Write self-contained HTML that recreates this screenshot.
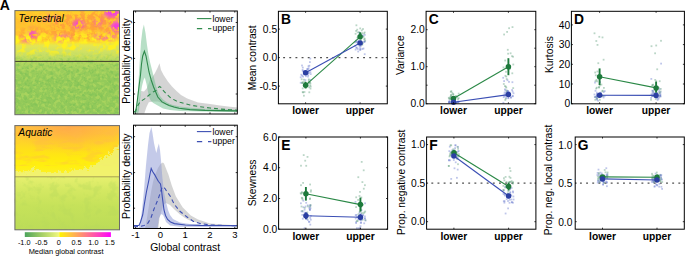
<!DOCTYPE html>
<html><head><meta charset="utf-8"><style>
html,body{margin:0;padding:0;background:#fff;width:685px;height:256px;overflow:hidden;}
svg{display:block;font-family:"Liberation Sans",sans-serif;}
</style></head><body>
<svg xmlns="http://www.w3.org/2000/svg" width="685" height="256" viewBox="0 0 685 256" font-family="Liberation Sans, sans-serif">
<defs><linearGradient id="tgrad" x1="0" y1="0" x2="0" y2="1"><stop offset="0.000" stop-color="#ffd02a"/><stop offset="0.093" stop-color="#ffc82c"/><stop offset="0.189" stop-color="#ffc030"/><stop offset="0.247" stop-color="#ffc82c"/><stop offset="0.276" stop-color="#ffd824"/><stop offset="0.305" stop-color="#fce82a"/><stop offset="0.333" stop-color="#e6e650"/><stop offset="0.381" stop-color="#d4e262"/><stop offset="0.439" stop-color="#c6de64"/><stop offset="0.497" stop-color="#b0d660"/><stop offset="0.573" stop-color="#9ccd5c"/><stop offset="0.670" stop-color="#94ca5a"/><stop offset="1.000" stop-color="#92c95a"/></linearGradient><linearGradient id="agrad" x1="0" y1="0" x2="0" y2="1"><stop offset="0.000" stop-color="#ffc040"/><stop offset="0.074" stop-color="#ffc636"/><stop offset="0.160" stop-color="#ffd428"/><stop offset="0.237" stop-color="#ffe01a"/><stop offset="0.314" stop-color="#ffea10"/><stop offset="0.391" stop-color="#fff010"/><stop offset="0.489" stop-color="#fcf030"/><stop offset="0.494" stop-color="#e6f06e"/><stop offset="0.621" stop-color="#d4e862"/><stop offset="0.765" stop-color="#c6e25a"/><stop offset="1.000" stop-color="#bcdc58"/></linearGradient>
<radialGradient id="aglow" cx="0.52" cy="0" r="0.55">
 <stop offset="0" stop-color="#ff9c50" stop-opacity="0.7"/>
 <stop offset="0.5" stop-color="#ffa64a" stop-opacity="0.35"/>
 <stop offset="1" stop-color="#ffb040" stop-opacity="0"/>
</radialGradient>
<filter id="rough" x="-0.1" y="-0.1" width="1.2" height="1.2">
 <feTurbulence type="fractalNoise" baseFrequency="0.3" numOctaves="3" seed="3" result="n"/>
 <feDisplacementMap in="SourceGraphic" in2="n" scale="10" xChannelSelector="R" yChannelSelector="G" result="d"/>
 <feGaussianBlur in="d" stdDeviation="0.5"/>
</filter>
<filter id="fatex" x="0" y="0" width="1" height="1" color-interpolation-filters="sRGB">
 <feTurbulence type="fractalNoise" baseFrequency="0.06 0.2" numOctaves="3" seed="41"/>
 <feColorMatrix type="matrix" values="0 0 0 0 1  0 0 0 0 0.72  0 0 0 0 0.3  5 0 0 0 -2.4"/>
</filter>
<filter id="fatex2" x="0" y="0" width="1" height="1" color-interpolation-filters="sRGB">
 <feTurbulence type="fractalNoise" baseFrequency="0.12" numOctaves="3" seed="43"/>
 <feColorMatrix type="matrix" values="0 0 0 0 0.72  0 0 0 0 0.85  0 0 0 0 0.36  5 0 0 0 -2.5"/>
</filter>
<clipPath id="aclip"><rect x="14.5" y="125.3" width="104.6" height="51.3"/></clipPath>
<filter id="forg" x="0" y="0" width="1" height="1" color-interpolation-filters="sRGB">
 <feTurbulence type="fractalNoise" baseFrequency="0.2" numOctaves="3" seed="5"/>
 <feColorMatrix type="matrix" values="0 0 0 0 1  0 0 0 0 0.64  0 0 0 0 0.22  6 0 0 0 -2.5"/>
</filter>
<filter id="fmag" x="0" y="0" width="1" height="1" color-interpolation-filters="sRGB">
 <feTurbulence type="fractalNoise" baseFrequency="0.22" numOctaves="3" seed="4"/>
 <feColorMatrix type="matrix" values="0 0 0 0 0.94  0 0 0 0 0.22  0 0 0 0 0.9  0 14 0 0 -5.6"/>
</filter>
<filter id="fyel" x="0" y="0" width="1" height="1" color-interpolation-filters="sRGB">
 <feTurbulence type="fractalNoise" baseFrequency="0.16" numOctaves="3" seed="9"/>
 <feColorMatrix type="matrix" values="0 0 0 0 1  0 0 0 0 0.94  0 0 0 0 0.12  0 5 0 0 -2.3"/>
</filter>
<filter id="fgrn" x="0" y="0" width="1" height="1" color-interpolation-filters="sRGB">
 <feTurbulence type="fractalNoise" baseFrequency="0.3" numOctaves="2" seed="12"/>
 <feColorMatrix type="matrix" values="0 0 0 0 0.50  0 0 0 0 0.76  0 0 0 0 0.34  0 0 4 0 -1.8"/>
</filter>
<filter id="fgrn2" x="0" y="0" width="1" height="1" color-interpolation-filters="sRGB">
 <feTurbulence type="fractalNoise" baseFrequency="0.28" numOctaves="2" seed="21"/>
 <feColorMatrix type="matrix" values="0 0 0 0 0.72  0 0 0 0 0.86  0 0 0 0 0.38  5 0 0 0 -2.4"/>
</filter>
<filter id="fpale" x="0" y="0" width="1" height="1" color-interpolation-filters="sRGB">
 <feTurbulence type="fractalNoise" baseFrequency="0.09" numOctaves="3" seed="31"/>
 <feColorMatrix type="matrix" values="0 0 0 0 0.95  0 0 0 0 0.96  0 0 0 0 0.50  5 0 0 0 -2.2"/>
</filter>
<linearGradient id="mTop" x1="0" y1="0" x2="0" y2="1">
 <stop offset="0" stop-color="#fff"/>
 <stop offset="0.24" stop-color="#fff"/>
 <stop offset="0.30" stop-color="#fff" stop-opacity="0.5"/>
 <stop offset="0.34" stop-color="#fff" stop-opacity="0"/>
</linearGradient>
<linearGradient id="mTopR" x1="0" y1="0" x2="1" y2="0">
 <stop offset="0" stop-color="#fff" stop-opacity="0.45"/>
 <stop offset="0.5" stop-color="#fff" stop-opacity="0.6"/>
 <stop offset="0.8" stop-color="#fff" stop-opacity="1"/>
</linearGradient>
<mask id="morg"><rect x="14.5" y="10.3" width="105" height="104" fill="url(#mTop)"/></mask>
<filter id="mblur" x="-0.5" y="-0.5" width="2" height="2"><feGaussianBlur stdDeviation="2.2"/></filter>
<mask id="mmagH"><g filter="url(#mblur)" fill="#fff">
 <ellipse cx="112" cy="13" rx="9" ry="4"/>
 <ellipse cx="116" cy="26" rx="6" ry="5"/>
 <ellipse cx="98" cy="22" rx="5" ry="4" fill-opacity="0.5"/>
 <ellipse cx="78" cy="24" rx="6" ry="4" fill-opacity="0.9"/>
 <ellipse cx="32" cy="33" rx="5" ry="4" fill-opacity="0.8"/>
 <ellipse cx="28" cy="41" rx="10" ry="4" fill-opacity="0.7"/>
 <ellipse cx="62" cy="39" rx="9" ry="4" fill-opacity="0.7"/>
 <ellipse cx="105" cy="37" rx="12" ry="4" fill-opacity="0.6"/>
 <ellipse cx="50" cy="18" rx="8" ry="4" fill-opacity="0.4"/>
</g></mask>
<mask id="morgH"><g filter="url(#mblur)" fill="#fff">
 <ellipse cx="85" cy="26" rx="36" ry="16"/>
 <ellipse cx="35" cy="35" rx="22" ry="8" fill-opacity="0.8"/>
 <ellipse cx="30" cy="18" rx="16" ry="6" fill-opacity="0.4"/>
</g></mask>
<linearGradient id="mMid" x1="0" y1="0" x2="0" y2="1">
 <stop offset="0.16" stop-color="#fff" stop-opacity="0"/>
 <stop offset="0.26" stop-color="#fff"/>
 <stop offset="0.36" stop-color="#fff"/>
 <stop offset="0.48" stop-color="#fff" stop-opacity="0"/>
</linearGradient>
<mask id="myel"><rect x="14.5" y="10.3" width="105" height="104" fill="url(#mMid)"/></mask>
<linearGradient id="mLow" x1="0" y1="0" x2="0" y2="1">
 <stop offset="0.40" stop-color="#fff" stop-opacity="0"/>
 <stop offset="0.52" stop-color="#fff"/>
 <stop offset="1" stop-color="#fff"/>
</linearGradient>
<mask id="mgrn"><rect x="14.5" y="10.3" width="105" height="104" fill="url(#mLow)"/></mask>
<linearGradient id="mPale" x1="0" y1="0" x2="0" y2="1">
 <stop offset="0.25" stop-color="#fff" stop-opacity="0"/>
 <stop offset="0.42" stop-color="#fff" stop-opacity="0.8"/>
 <stop offset="0.49" stop-color="#fff"/>
 <stop offset="0.495" stop-color="#fff" stop-opacity="0"/>
</linearGradient>
<mask id="mpale"><rect x="14.5" y="125.3" width="104.6" height="104.2" fill="url(#mPale)"/></mask>
<radialGradient id="magTR" cx="1" cy="0.05" r="0.3">
 <stop offset="0" stop-color="#ff38e0" stop-opacity="0.55"/>
 <stop offset="1" stop-color="#ff38e0" stop-opacity="0"/>
</radialGradient>
<linearGradient id="cbL" x1="0" y1="0" x2="1" y2="0">
 <stop offset="0" stop-color="#4ba35c"/>
 <stop offset="0.5" stop-color="#a6cf66"/>
 <stop offset="1" stop-color="#f2f87e"/>
</linearGradient>
<linearGradient id="cbR" x1="0" y1="0" x2="1" y2="0">
 <stop offset="0" stop-color="#fff500"/>
 <stop offset="0.2" stop-color="#ffc83a"/>
 <stop offset="0.4" stop-color="#ff9868"/>
 <stop offset="0.6" stop-color="#ff6898"/>
 <stop offset="0.8" stop-color="#ff38c8"/>
 <stop offset="1" stop-color="#ff00ff"/>
</linearGradient>
</defs>
<rect width="685" height="256" fill="#fff"/>
<g transform="translate(0.4,0.3)">
<rect x="14.5" y="10.3" width="104.6" height="104.1" fill="url(#tgrad)"/>
<g mask="url(#morg)"><rect x="14.5" y="10.3" width="104.6" height="104.1" filter="url(#forg)" mask="url(#morgH)"/></g>
<g mask="url(#morg)"><rect x="14.5" y="10.3" width="104.6" height="104.1" filter="url(#fmag)" mask="url(#mmagH)"/></g>
<rect x="14.5" y="10.3" width="104.6" height="104.1" filter="url(#fyel)" mask="url(#myel)"/>
<rect x="14.5" y="10.3" width="104.6" height="104.1" filter="url(#fgrn)" mask="url(#mgrn)" opacity="0.7"/>
<rect x="14.5" y="10.3" width="104.6" height="104.1" filter="url(#fgrn2)" mask="url(#mgrn)" opacity="0.6"/>
<line x1="14.5" y1="61.1" x2="119.1" y2="61.1" stroke="#3c3c2a" stroke-width="1"/>
<rect x="14.5" y="10.3" width="104.6" height="104.1" fill="none" stroke="#6a6a6a" stroke-width="1"/>
<text x="18.2" y="22.1" font-style="italic" font-size="10.25">Terrestrial</text>
<rect x="14.5" y="125.3" width="104.6" height="104.2" fill="url(#agrad)"/>
<rect x="14.5" y="125.3" width="104.6" height="51.5" fill="url(#aglow)"/>
<rect x="14.5" y="125.3" width="104.6" height="40" filter="url(#fatex)" opacity="0.35"/>
<rect x="14.5" y="177" width="104.6" height="52.5" filter="url(#fatex2)" opacity="0.35"/>
<g clip-path="url(#aclip)"><path d="M10,170 L20,171 L30,171 L34,166 L38,170 L50,172 L60,171.5 L70,170.5 L80,169 L90,166.5 L96,163 L100,160 L105,157 L108,155 L112,151 L116,148.5 L120,146 L124,146 L124,180 L10,180 Z" fill="#f0f27a" fill-opacity="0.85" filter="url(#rough)"/></g>
<line x1="14.5" y1="176.5" x2="119.1" y2="176.5" stroke="#a8a450" stroke-width="1"/>
<rect x="14.5" y="125.3" width="104.6" height="104.2" fill="none" stroke="#6a6a6a" stroke-width="1"/>
<text x="17.9" y="135.8" font-style="italic" font-size="10.25">Aquatic</text>
</g>
<rect x="24.8" y="232.2" width="34.6" height="4.8" fill="url(#cbL)"/>
<rect x="59.3" y="232.2" width="51.6" height="4.8" fill="url(#cbR)"/>
<text x="24.2" y="244.6" font-size="7.3" text-anchor="middle">-1.0</text>
<text x="41.35" y="244.6" font-size="7.3" text-anchor="middle">-0.5</text>
<text x="58.85" y="244.6" font-size="7.3" text-anchor="middle">0</text>
<text x="76.5" y="244.6" font-size="7.3" text-anchor="middle">0.5</text>
<text x="93.4" y="244.6" font-size="7.3" text-anchor="middle">1.0</text>
<text x="109.8" y="244.6" font-size="7.3" text-anchor="middle">1.5</text>
<text x="66.1" y="254.2" font-size="7.45" text-anchor="middle">Median global contrast</text>
<text x="-0.3" y="9.7" font-weight="bold" font-size="14">A</text>
<clipPath id="dc11"><rect x="133.5" y="11" width="103.80000000000001" height="103"/></clipPath>
<g clip-path="url(#dc11)">
<polygon points="137.0,113.5 139.0,100.0 141.0,91.0 144.0,91.5 147.0,88.0 150.0,80.0 153.0,76.0 155.0,73.0 157.5,68.0 159.5,63.3 161.0,70.0 163.6,75.0 167.9,81.5 172.0,86.5 176.5,91.0 181.0,95.0 187.2,98.6 198.0,102.5 210.0,104.0 220.0,105.5 230.0,106.8 238.0,107.5 238.0,112.0 220.0,111.5 200.0,110.6 185.0,109.8 175.0,108.3 170.0,106.5 163.0,103.5 158.0,101.5 153.0,101.5 148.8,102.3 146.5,107.0 144.3,113.5 137.0,113.5" fill="#a9a9a9" fill-opacity="0.5"/>
<polygon points="134.0,113.5 136.0,110.0 138.0,90.0 139.5,65.0 141.0,42.0 142.5,30.0 143.9,24.5 145.5,33.0 147.0,45.0 148.5,55.0 150.0,62.0 152.0,70.0 154.0,78.0 156.0,86.0 158.0,92.0 160.0,96.0 163.0,99.5 167.0,102.5 172.0,104.8 180.0,106.6 195.0,108.3 215.0,109.3 238.0,109.8 238.0,112.0 200.0,111.6 180.0,111.0 170.0,110.0 163.0,108.4 158.6,106.0 153.3,103.0 151.0,101.0 149.5,98.0 148.0,92.0 146.5,84.0 144.8,77.5 143.5,80.0 142.0,86.0 141.0,92.0 140.0,100.0 139.0,110.0 138.0,113.5 134.0,113.5" fill="#6fbf8d" fill-opacity="0.5"/>
<polyline points="134.2,112.0 135.8,111.5 137.4,100.0 139.2,85.0 140.5,75.0 141.5,64.0 142.7,56.0 144.4,51.2 146.0,56.0 147.7,65.0 149.0,72.0 151.2,80.0 153.6,87.0 155.7,92.0 157.8,97.0 162.0,101.9 166.0,104.0 169.1,105.4 174.0,107.0 179.0,108.2 190.0,109.6 205.0,110.4 237.3,110.9" fill="none" stroke="#2f8a4c" stroke-width="1.1"/>
<polyline points="134.2,112.0 135.5,111.0 137.0,107.2 139.0,103.5 141.0,101.2 145.0,98.6 148.0,96.0 151.0,93.3 154.0,91.5 156.2,90.6 158.3,87.5 159.5,86.5 161.0,87.5 163.6,91.0 167.0,94.5 171.0,98.2 176.0,100.8 180.0,102.3 190.0,105.0 200.0,106.8 210.0,108.0 220.0,109.0 230.0,109.8 237.3,110.2" fill="none" stroke="#2f8a4c" stroke-width="1.1" stroke-dasharray="4 3"/>
</g>
<rect x="133.5" y="11" width="103.80000000000001" height="103" fill="none" stroke="#000" stroke-width="1"/>
<line x1="135.6" y1="114" x2="135.6" y2="112.4" stroke="#000" stroke-width="0.8"/>
<line x1="135.6" y1="11" x2="135.6" y2="12.6" stroke="#000" stroke-width="0.8"/>
<line x1="160.4" y1="114" x2="160.4" y2="112.4" stroke="#000" stroke-width="0.8"/>
<line x1="160.4" y1="11" x2="160.4" y2="12.6" stroke="#000" stroke-width="0.8"/>
<line x1="185.2" y1="114" x2="185.2" y2="112.4" stroke="#000" stroke-width="0.8"/>
<line x1="185.2" y1="11" x2="185.2" y2="12.6" stroke="#000" stroke-width="0.8"/>
<line x1="210.0" y1="114" x2="210.0" y2="112.4" stroke="#000" stroke-width="0.8"/>
<line x1="210.0" y1="11" x2="210.0" y2="12.6" stroke="#000" stroke-width="0.8"/>
<line x1="234.8" y1="114" x2="234.8" y2="112.4" stroke="#000" stroke-width="0.8"/>
<line x1="234.8" y1="11" x2="234.8" y2="12.6" stroke="#000" stroke-width="0.8"/>
<line x1="133.5" y1="22.5" x2="135.1" y2="22.5" stroke="#000" stroke-width="0.8"/>
<line x1="237.3" y1="22.5" x2="235.70000000000002" y2="22.5" stroke="#000" stroke-width="0.8"/>
<line x1="133.5" y1="58.4" x2="135.1" y2="58.4" stroke="#000" stroke-width="0.8"/>
<line x1="237.3" y1="58.4" x2="235.70000000000002" y2="58.4" stroke="#000" stroke-width="0.8"/>
<line x1="133.5" y1="94.0" x2="135.1" y2="94.0" stroke="#000" stroke-width="0.8"/>
<line x1="237.3" y1="94.0" x2="235.70000000000002" y2="94.0" stroke="#000" stroke-width="0.8"/>
<line x1="196.9" y1="18.6" x2="211.4" y2="18.6" stroke="#2f8a4c" stroke-width="1.1"/>
<line x1="196.9" y1="28.6" x2="211.4" y2="28.6" stroke="#2f8a4c" stroke-width="1.1" stroke-dasharray="5.3 5.8"/>
<text x="212.6" y="21.900000000000002" font-size="8.7">lower</text>
<text x="212.6" y="30.700000000000003" font-size="8.7">upper</text>
<text transform="translate(130.2,60.9) rotate(-90)" font-size="10.55" text-anchor="middle">Probability density</text>
<clipPath id="dc125"><rect x="133.5" y="125.2" width="103.80000000000001" height="103.3"/></clipPath>
<g clip-path="url(#dc125)">
<polygon points="145.0,228.5 147.0,218.0 149.0,205.0 151.0,192.0 153.0,182.0 155.0,175.0 158.0,168.0 160.5,164.0 162.8,162.5 164.0,163.5 168.4,174.4 171.7,185.3 175.8,196.3 182.6,207.2 190.8,215.4 198.0,219.5 210.0,223.5 238.0,225.5 238.0,226.5 215.0,225.5 200.0,223.5 190.0,220.5 185.0,218.0 180.0,214.5 175.0,210.0 170.0,205.0 166.0,203.0 163.5,205.0 161.5,211.0 159.5,218.0 158.3,228.5 145.0,228.5" fill="#a9a9a9" fill-opacity="0.5"/>
<polygon points="138.0,228.5 140.0,225.0 142.0,210.0 144.0,190.0 146.0,165.0 148.0,145.0 149.5,133.0 151.4,127.0 152.5,133.0 154.0,143.0 155.5,150.0 156.3,153.0 157.5,148.0 158.9,143.4 160.0,150.0 161.0,160.0 162.3,177.0 164.0,192.0 166.0,202.0 168.0,210.0 170.0,215.0 173.0,219.0 180.0,222.5 190.0,224.0 210.0,225.0 238.0,225.5 238.0,227.2 180.0,226.8 170.0,225.5 166.0,222.0 164.5,218.0 163.0,215.0 161.0,214.0 159.0,218.0 157.5,228.5 138.0,228.5" fill="#8a95d4" fill-opacity="0.5"/>
<polyline points="134.0,225.5 139.0,225.4 140.5,222.0 142.7,215.0 144.2,205.0 146.4,192.0 148.9,180.0 150.2,173.0 151.2,168.4 152.6,171.5 154.8,174.9 156.5,178.0 158.3,181.3 160.5,184.0 161.5,190.0 162.3,197.0 164.0,210.0 165.5,215.5 167.6,219.5 170.5,222.0 174.4,223.6 185.3,225.0 200.0,225.4 237.3,225.5" fill="none" stroke="#3d4fb3" stroke-width="1.1"/>
<polyline points="134.0,226.8 140.0,226.5 144.0,225.5 146.5,224.5 147.9,223.2 150.9,218.0 154.0,209.0 156.5,203.0 158.3,198.7 160.4,192.2 162.0,187.5 163.2,186.8 165.0,188.5 166.5,191.0 170.3,196.3 174.4,204.5 179.9,211.3 186.7,216.8 193.5,221.4 200.0,223.5 210.0,225.0 237.3,225.8" fill="none" stroke="#3d4fb3" stroke-width="1.1" stroke-dasharray="4 3"/>
</g>
<rect x="133.5" y="125.2" width="103.80000000000001" height="103.3" fill="none" stroke="#000" stroke-width="1"/>
<line x1="135.6" y1="228.5" x2="135.6" y2="226.9" stroke="#000" stroke-width="0.8"/>
<line x1="135.6" y1="125.2" x2="135.6" y2="126.8" stroke="#000" stroke-width="0.8"/>
<text x="135.6" y="238.4" font-size="9.5" text-anchor="middle">-1</text>
<line x1="160.4" y1="228.5" x2="160.4" y2="226.9" stroke="#000" stroke-width="0.8"/>
<line x1="160.4" y1="125.2" x2="160.4" y2="126.8" stroke="#000" stroke-width="0.8"/>
<text x="160.4" y="238.4" font-size="9.5" text-anchor="middle">0</text>
<line x1="185.2" y1="228.5" x2="185.2" y2="226.9" stroke="#000" stroke-width="0.8"/>
<line x1="185.2" y1="125.2" x2="185.2" y2="126.8" stroke="#000" stroke-width="0.8"/>
<text x="185.2" y="238.4" font-size="9.5" text-anchor="middle">1</text>
<line x1="210.0" y1="228.5" x2="210.0" y2="226.9" stroke="#000" stroke-width="0.8"/>
<line x1="210.0" y1="125.2" x2="210.0" y2="126.8" stroke="#000" stroke-width="0.8"/>
<text x="210.0" y="238.4" font-size="9.5" text-anchor="middle">2</text>
<line x1="234.8" y1="228.5" x2="234.8" y2="226.9" stroke="#000" stroke-width="0.8"/>
<line x1="234.8" y1="125.2" x2="234.8" y2="126.8" stroke="#000" stroke-width="0.8"/>
<text x="234.8" y="238.4" font-size="9.5" text-anchor="middle">3</text>
<line x1="133.5" y1="136.7" x2="135.1" y2="136.7" stroke="#000" stroke-width="0.8"/>
<line x1="237.3" y1="136.7" x2="235.70000000000002" y2="136.7" stroke="#000" stroke-width="0.8"/>
<line x1="133.5" y1="172.6" x2="135.1" y2="172.6" stroke="#000" stroke-width="0.8"/>
<line x1="237.3" y1="172.6" x2="235.70000000000002" y2="172.6" stroke="#000" stroke-width="0.8"/>
<line x1="133.5" y1="208.2" x2="135.1" y2="208.2" stroke="#000" stroke-width="0.8"/>
<line x1="237.3" y1="208.2" x2="235.70000000000002" y2="208.2" stroke="#000" stroke-width="0.8"/>
<line x1="196.9" y1="131.6" x2="211.4" y2="131.6" stroke="#3d4fb3" stroke-width="1.1"/>
<line x1="196.9" y1="141.6" x2="211.4" y2="141.6" stroke="#3d4fb3" stroke-width="1.1" stroke-dasharray="5.3 5.8"/>
<text x="212.6" y="134.9" font-size="8.7">lower</text>
<text x="212.6" y="143.7" font-size="8.7">upper</text>
<text transform="translate(130.2,176.2) rotate(-90)" font-size="10.55" text-anchor="middle">Probability density</text>
<text x="185.2" y="250.6" font-size="10.4" text-anchor="middle">Global contrast</text>
<line x1="278.4" y1="57.6" x2="387.3" y2="57.6" stroke="#505050" stroke-width="1.25" stroke-dasharray="1.9 4.25" stroke-dashoffset="1.4"/>
<rect x="309.7" y="79.0" width="1.8" height="1.8" fill="#6678cc" fill-opacity="0.42"/>
<rect x="308.5" y="64.8" width="1.8" height="1.8" fill="#6678cc" fill-opacity="0.42"/>
<rect x="306.8" y="84.5" width="1.8" height="1.8" fill="#5c9e7a" fill-opacity="0.42"/>
<rect x="302.2" y="75.7" width="1.8" height="1.8" fill="#6678cc" fill-opacity="0.42"/>
<rect x="303.3" y="70.3" width="1.8" height="1.8" fill="#6678cc" fill-opacity="0.42"/>
<rect x="301.3" y="82.1" width="1.8" height="1.8" fill="#5c9e7a" fill-opacity="0.42"/>
<rect x="307.6" y="65.3" width="1.8" height="1.8" fill="#6678cc" fill-opacity="0.42"/>
<rect x="305.1" y="75.3" width="1.8" height="1.8" fill="#6678cc" fill-opacity="0.42"/>
<rect x="307.6" y="69.3" width="1.8" height="1.8" fill="#6678cc" fill-opacity="0.42"/>
<rect x="303.0" y="78.8" width="1.8" height="1.8" fill="#5c9e7a" fill-opacity="0.42"/>
<rect x="301.8" y="87.5" width="1.8" height="1.8" fill="#5c9e7a" fill-opacity="0.42"/>
<rect x="308.0" y="81.1" width="1.8" height="1.8" fill="#5c9e7a" fill-opacity="0.42"/>
<rect x="309.8" y="73.2" width="1.8" height="1.8" fill="#6678cc" fill-opacity="0.42"/>
<rect x="308.4" y="91.4" width="1.8" height="1.8" fill="#5c9e7a" fill-opacity="0.42"/>
<rect x="307.9" y="78.5" width="1.8" height="1.8" fill="#5c9e7a" fill-opacity="0.42"/>
<rect x="308.0" y="72.1" width="1.8" height="1.8" fill="#6678cc" fill-opacity="0.42"/>
<rect x="307.2" y="72.1" width="1.8" height="1.8" fill="#6678cc" fill-opacity="0.42"/>
<rect x="301.9" y="70.2" width="1.8" height="1.8" fill="#6678cc" fill-opacity="0.42"/>
<rect x="304.9" y="84.5" width="1.8" height="1.8" fill="#5c9e7a" fill-opacity="0.42"/>
<rect x="303.2" y="73.3" width="1.8" height="1.8" fill="#6678cc" fill-opacity="0.42"/>
<rect x="299.8" y="81.9" width="1.8" height="1.8" fill="#6678cc" fill-opacity="0.42"/>
<rect x="299.8" y="76.4" width="1.8" height="1.8" fill="#6678cc" fill-opacity="0.42"/>
<rect x="302.4" y="81.2" width="1.8" height="1.8" fill="#5c9e7a" fill-opacity="0.42"/>
<rect x="302.2" y="91.5" width="1.8" height="1.8" fill="#5c9e7a" fill-opacity="0.42"/>
<rect x="306.7" y="68.1" width="1.8" height="1.8" fill="#6678cc" fill-opacity="0.42"/>
<rect x="309.5" y="71.3" width="1.8" height="1.8" fill="#6678cc" fill-opacity="0.42"/>
<rect x="304.2" y="81.2" width="1.8" height="1.8" fill="#5c9e7a" fill-opacity="0.42"/>
<rect x="309.3" y="84.5" width="1.8" height="1.8" fill="#5c9e7a" fill-opacity="0.42"/>
<rect x="309.8" y="85.6" width="1.8" height="1.8" fill="#5c9e7a" fill-opacity="0.42"/>
<rect x="309.5" y="82.6" width="1.8" height="1.8" fill="#5c9e7a" fill-opacity="0.42"/>
<rect x="303.3" y="83.8" width="1.8" height="1.8" fill="#6678cc" fill-opacity="0.42"/>
<rect x="301.8" y="91.2" width="1.8" height="1.8" fill="#5c9e7a" fill-opacity="0.42"/>
<rect x="301.9" y="66.7" width="1.8" height="1.8" fill="#6678cc" fill-opacity="0.42"/>
<rect x="301.6" y="82.1" width="1.8" height="1.8" fill="#5c9e7a" fill-opacity="0.42"/>
<rect x="301.7" y="69.0" width="1.8" height="1.8" fill="#6678cc" fill-opacity="0.42"/>
<rect x="306.0" y="71.8" width="1.8" height="1.8" fill="#6678cc" fill-opacity="0.42"/>
<rect x="308.9" y="81.2" width="1.8" height="1.8" fill="#5c9e7a" fill-opacity="0.42"/>
<rect x="308.3" y="86.4" width="1.8" height="1.8" fill="#5c9e7a" fill-opacity="0.42"/>
<rect x="304.5" y="79.2" width="1.8" height="1.8" fill="#6678cc" fill-opacity="0.42"/>
<rect x="306.3" y="68.3" width="1.8" height="1.8" fill="#6678cc" fill-opacity="0.42"/>
<rect x="307.8" y="82.4" width="1.8" height="1.8" fill="#5c9e7a" fill-opacity="0.42"/>
<rect x="300.4" y="73.8" width="1.8" height="1.8" fill="#6678cc" fill-opacity="0.42"/>
<rect x="306.4" y="84.7" width="1.8" height="1.8" fill="#5c9e7a" fill-opacity="0.42"/>
<rect x="309.0" y="61.2" width="1.8" height="1.8" fill="#6678cc" fill-opacity="0.42"/>
<rect x="307.7" y="67.3" width="1.8" height="1.8" fill="#6678cc" fill-opacity="0.42"/>
<rect x="307.3" y="74.2" width="1.8" height="1.8" fill="#6678cc" fill-opacity="0.42"/>
<rect x="304.5" y="83.7" width="1.8" height="1.8" fill="#5c9e7a" fill-opacity="0.42"/>
<rect x="301.4" y="81.6" width="1.8" height="1.8" fill="#5c9e7a" fill-opacity="0.42"/>
<rect x="307.7" y="81.7" width="1.8" height="1.8" fill="#5c9e7a" fill-opacity="0.42"/>
<rect x="303.0" y="94.8" width="1.8" height="1.8" fill="#5c9e7a" fill-opacity="0.42"/>
<rect x="307.9" y="79.6" width="1.8" height="1.8" fill="#5c9e7a" fill-opacity="0.42"/>
<rect x="309.6" y="87.7" width="1.8" height="1.8" fill="#5c9e7a" fill-opacity="0.42"/>
<rect x="303.6" y="91.1" width="1.8" height="1.8" fill="#5c9e7a" fill-opacity="0.42"/>
<rect x="303.7" y="84.9" width="1.8" height="1.8" fill="#5c9e7a" fill-opacity="0.42"/>
<rect x="309.4" y="57.7" width="1.8" height="1.8" fill="#6678cc" fill-opacity="0.42"/>
<rect x="307.1" y="75.7" width="1.8" height="1.8" fill="#6678cc" fill-opacity="0.42"/>
<rect x="301.3" y="74.7" width="1.8" height="1.8" fill="#6678cc" fill-opacity="0.42"/>
<rect x="300.8" y="78.4" width="1.8" height="1.8" fill="#5c9e7a" fill-opacity="0.42"/>
<rect x="301.1" y="64.6" width="1.8" height="1.8" fill="#6678cc" fill-opacity="0.42"/>
<rect x="308.9" y="81.7" width="1.8" height="1.8" fill="#5c9e7a" fill-opacity="0.42"/>
<rect x="357.4" y="42.4" width="1.8" height="1.8" fill="#6678cc" fill-opacity="0.42"/>
<rect x="359.4" y="36.0" width="1.8" height="1.8" fill="#5c9e7a" fill-opacity="0.42"/>
<rect x="359.8" y="39.4" width="1.8" height="1.8" fill="#5c9e7a" fill-opacity="0.42"/>
<rect x="362.1" y="28.1" width="1.8" height="1.8" fill="#5c9e7a" fill-opacity="0.42"/>
<rect x="355.1" y="39.8" width="1.8" height="1.8" fill="#6678cc" fill-opacity="0.42"/>
<rect x="359.8" y="38.9" width="1.8" height="1.8" fill="#5c9e7a" fill-opacity="0.42"/>
<rect x="356.6" y="43.4" width="1.8" height="1.8" fill="#5c9e7a" fill-opacity="0.42"/>
<rect x="356.9" y="48.1" width="1.8" height="1.8" fill="#6678cc" fill-opacity="0.42"/>
<rect x="362.0" y="42.2" width="1.8" height="1.8" fill="#5c9e7a" fill-opacity="0.42"/>
<rect x="359.3" y="49.1" width="1.8" height="1.8" fill="#6678cc" fill-opacity="0.42"/>
<rect x="359.8" y="45.5" width="1.8" height="1.8" fill="#6678cc" fill-opacity="0.42"/>
<rect x="361.9" y="35.7" width="1.8" height="1.8" fill="#5c9e7a" fill-opacity="0.42"/>
<rect x="363.5" y="40.7" width="1.8" height="1.8" fill="#6678cc" fill-opacity="0.42"/>
<rect x="358.6" y="42.0" width="1.8" height="1.8" fill="#5c9e7a" fill-opacity="0.42"/>
<rect x="360.3" y="33.3" width="1.8" height="1.8" fill="#5c9e7a" fill-opacity="0.42"/>
<rect x="359.2" y="42.6" width="1.8" height="1.8" fill="#6678cc" fill-opacity="0.42"/>
<rect x="359.3" y="47.6" width="1.8" height="1.8" fill="#6678cc" fill-opacity="0.42"/>
<rect x="361.2" y="43.1" width="1.8" height="1.8" fill="#6678cc" fill-opacity="0.42"/>
<rect x="358.7" y="45.8" width="1.8" height="1.8" fill="#6678cc" fill-opacity="0.42"/>
<rect x="359.5" y="48.5" width="1.8" height="1.8" fill="#6678cc" fill-opacity="0.42"/>
<rect x="358.9" y="36.7" width="1.8" height="1.8" fill="#6678cc" fill-opacity="0.42"/>
<rect x="363.8" y="53.3" width="1.8" height="1.8" fill="#6678cc" fill-opacity="0.42"/>
<rect x="361.2" y="32.2" width="1.8" height="1.8" fill="#5c9e7a" fill-opacity="0.42"/>
<rect x="363.1" y="32.5" width="1.8" height="1.8" fill="#5c9e7a" fill-opacity="0.42"/>
<rect x="363.8" y="31.6" width="1.8" height="1.8" fill="#5c9e7a" fill-opacity="0.42"/>
<rect x="356.7" y="31.4" width="1.8" height="1.8" fill="#5c9e7a" fill-opacity="0.42"/>
<rect x="359.8" y="33.8" width="1.8" height="1.8" fill="#6678cc" fill-opacity="0.42"/>
<rect x="363.8" y="37.8" width="1.8" height="1.8" fill="#5c9e7a" fill-opacity="0.42"/>
<rect x="362.7" y="35.9" width="1.8" height="1.8" fill="#5c9e7a" fill-opacity="0.42"/>
<rect x="355.4" y="40.8" width="1.8" height="1.8" fill="#6678cc" fill-opacity="0.42"/>
<rect x="355.2" y="30.0" width="1.8" height="1.8" fill="#5c9e7a" fill-opacity="0.42"/>
<rect x="358.6" y="34.5" width="1.8" height="1.8" fill="#6678cc" fill-opacity="0.42"/>
<rect x="354.7" y="32.9" width="1.8" height="1.8" fill="#5c9e7a" fill-opacity="0.42"/>
<rect x="356.5" y="36.8" width="1.8" height="1.8" fill="#5c9e7a" fill-opacity="0.42"/>
<rect x="354.7" y="48.7" width="1.8" height="1.8" fill="#6678cc" fill-opacity="0.42"/>
<rect x="360.9" y="29.5" width="1.8" height="1.8" fill="#5c9e7a" fill-opacity="0.42"/>
<rect x="362.1" y="34.5" width="1.8" height="1.8" fill="#6678cc" fill-opacity="0.42"/>
<rect x="363.3" y="38.4" width="1.8" height="1.8" fill="#5c9e7a" fill-opacity="0.42"/>
<rect x="355.6" y="46.8" width="1.8" height="1.8" fill="#6678cc" fill-opacity="0.42"/>
<rect x="361.4" y="43.9" width="1.8" height="1.8" fill="#5c9e7a" fill-opacity="0.42"/>
<rect x="360.8" y="41.5" width="1.8" height="1.8" fill="#5c9e7a" fill-opacity="0.42"/>
<rect x="355.5" y="24.4" width="1.8" height="1.8" fill="#5c9e7a" fill-opacity="0.42"/>
<rect x="363.2" y="40.9" width="1.8" height="1.8" fill="#6678cc" fill-opacity="0.42"/>
<rect x="364.0" y="40.6" width="1.8" height="1.8" fill="#6678cc" fill-opacity="0.42"/>
<rect x="356.3" y="28.8" width="1.8" height="1.8" fill="#5c9e7a" fill-opacity="0.42"/>
<rect x="363.9" y="34.0" width="1.8" height="1.8" fill="#6678cc" fill-opacity="0.42"/>
<rect x="358.1" y="31.4" width="1.8" height="1.8" fill="#5c9e7a" fill-opacity="0.42"/>
<rect x="359.0" y="36.3" width="1.8" height="1.8" fill="#5c9e7a" fill-opacity="0.42"/>
<rect x="364.3" y="39.7" width="1.8" height="1.8" fill="#5c9e7a" fill-opacity="0.42"/>
<rect x="362.6" y="47.6" width="1.8" height="1.8" fill="#6678cc" fill-opacity="0.42"/>
<rect x="355.7" y="46.7" width="1.8" height="1.8" fill="#6678cc" fill-opacity="0.42"/>
<rect x="358.5" y="31.8" width="1.8" height="1.8" fill="#6678cc" fill-opacity="0.42"/>
<rect x="359.3" y="27.5" width="1.8" height="1.8" fill="#5c9e7a" fill-opacity="0.42"/>
<rect x="357.5" y="39.7" width="1.8" height="1.8" fill="#6678cc" fill-opacity="0.42"/>
<rect x="356.0" y="41.2" width="1.8" height="1.8" fill="#6678cc" fill-opacity="0.42"/>
<rect x="357.3" y="50.6" width="1.8" height="1.8" fill="#6678cc" fill-opacity="0.42"/>
<rect x="361.5" y="48.1" width="1.8" height="1.8" fill="#6678cc" fill-opacity="0.42"/>
<rect x="354.2" y="41.4" width="1.8" height="1.8" fill="#6678cc" fill-opacity="0.42"/>
<rect x="359.7" y="32.9" width="1.8" height="1.8" fill="#5c9e7a" fill-opacity="0.42"/>
<rect x="358.6" y="42.6" width="1.8" height="1.8" fill="#6678cc" fill-opacity="0.42"/>
<rect x="354.2" y="45.0" width="1.8" height="1.8" fill="#6678cc" fill-opacity="0.42"/>
<line x1="305.6" y1="85.2" x2="360.1" y2="36.8" stroke="#2a8846" stroke-width="1.1"/>
<line x1="305.6" y1="72.7" x2="360.1" y2="43.1" stroke="#3a4eb4" stroke-width="1.1"/>
<line x1="305.6" y1="81.9" x2="305.6" y2="88.5" stroke="#1e7a3c" stroke-width="1.9"/>
<circle cx="305.6" cy="85.2" r="2.75" fill="#1e7a3c"/>
<line x1="305.6" y1="71.5" x2="305.6" y2="73.9" stroke="#2b3fa2" stroke-width="1.9"/>
<circle cx="305.6" cy="72.7" r="2.75" fill="#2b3fa2"/>
<line x1="360.1" y1="32.3" x2="360.1" y2="38.3" stroke="#1e7a3c" stroke-width="1.9"/>
<circle cx="360.1" cy="36.8" r="2.75" fill="#1e7a3c"/>
<line x1="360.1" y1="41.9" x2="360.1" y2="44.3" stroke="#2b3fa2" stroke-width="1.9"/>
<circle cx="360.1" cy="43.1" r="2.75" fill="#2b3fa2"/>
<rect x="278.4" y="11.3" width="108.9" height="92.5" fill="none" stroke="#000" stroke-width="1"/>
<line x1="305.6" y1="103.8" x2="305.6" y2="102.3" stroke="#000" stroke-width="0.8"/>
<line x1="305.6" y1="11.3" x2="305.6" y2="12.8" stroke="#000" stroke-width="0.8"/>
<line x1="360.1" y1="103.8" x2="360.1" y2="102.3" stroke="#000" stroke-width="0.8"/>
<line x1="360.1" y1="11.3" x2="360.1" y2="12.8" stroke="#000" stroke-width="0.8"/>
<line x1="278.4" y1="29.1" x2="279.9" y2="29.1" stroke="#000" stroke-width="0.8"/>
<line x1="387.3" y1="29.1" x2="385.8" y2="29.1" stroke="#000" stroke-width="0.8"/>
<text x="277.1" y="32.7" font-size="10.25" text-anchor="end">0.5</text>
<line x1="278.4" y1="57.6" x2="279.9" y2="57.6" stroke="#000" stroke-width="0.8"/>
<line x1="387.3" y1="57.6" x2="385.8" y2="57.6" stroke="#000" stroke-width="0.8"/>
<text x="277.1" y="61.2" font-size="10.25" text-anchor="end">0.0</text>
<line x1="278.4" y1="86.1" x2="279.9" y2="86.1" stroke="#000" stroke-width="0.8"/>
<line x1="387.3" y1="86.1" x2="385.8" y2="86.1" stroke="#000" stroke-width="0.8"/>
<text x="277.1" y="89.7" font-size="10.25" text-anchor="end">-0.5</text>
<text x="305.6" y="114.3" font-size="10.25" font-weight="bold" text-anchor="middle">lower</text>
<text x="360.1" y="114.3" font-size="10.25" font-weight="bold" text-anchor="middle">upper</text>
<text x="281.0" y="24.3" font-size="13.8" font-weight="bold">B</text>
<text transform="translate(256.3,57.9) rotate(-90)" font-size="10.25" text-anchor="middle">Mean contrast</text>
<rect x="449.9" y="91.0" width="1.8" height="1.8" fill="#5c9e7a" fill-opacity="0.42"/>
<rect x="455.3" y="95.3" width="1.8" height="1.8" fill="#5c9e7a" fill-opacity="0.42"/>
<rect x="449.8" y="95.9" width="1.8" height="1.8" fill="#5c9e7a" fill-opacity="0.42"/>
<rect x="454.2" y="101.4" width="1.8" height="1.8" fill="#6678cc" fill-opacity="0.42"/>
<rect x="452.2" y="96.8" width="1.8" height="1.8" fill="#5c9e7a" fill-opacity="0.42"/>
<rect x="456.2" y="96.1" width="1.8" height="1.8" fill="#5c9e7a" fill-opacity="0.42"/>
<rect x="448.2" y="101.3" width="1.8" height="1.8" fill="#6678cc" fill-opacity="0.42"/>
<rect x="456.9" y="101.2" width="1.8" height="1.8" fill="#6678cc" fill-opacity="0.42"/>
<rect x="450.4" y="90.2" width="1.8" height="1.8" fill="#5c9e7a" fill-opacity="0.42"/>
<rect x="447.9" y="96.9" width="1.8" height="1.8" fill="#5c9e7a" fill-opacity="0.42"/>
<rect x="454.0" y="97.3" width="1.8" height="1.8" fill="#5c9e7a" fill-opacity="0.42"/>
<rect x="449.5" y="98.3" width="1.8" height="1.8" fill="#5c9e7a" fill-opacity="0.42"/>
<rect x="453.7" y="101.2" width="1.8" height="1.8" fill="#6678cc" fill-opacity="0.42"/>
<rect x="450.9" y="101.1" width="1.8" height="1.8" fill="#6678cc" fill-opacity="0.42"/>
<rect x="454.2" y="98.9" width="1.8" height="1.8" fill="#5c9e7a" fill-opacity="0.42"/>
<rect x="454.6" y="101.9" width="1.8" height="1.8" fill="#6678cc" fill-opacity="0.42"/>
<rect x="453.9" y="99.8" width="1.8" height="1.8" fill="#5c9e7a" fill-opacity="0.42"/>
<rect x="448.8" y="97.5" width="1.8" height="1.8" fill="#5c9e7a" fill-opacity="0.42"/>
<rect x="452.4" y="93.6" width="1.8" height="1.8" fill="#5c9e7a" fill-opacity="0.42"/>
<rect x="452.5" y="100.4" width="1.8" height="1.8" fill="#6678cc" fill-opacity="0.42"/>
<rect x="457.5" y="101.4" width="1.8" height="1.8" fill="#6678cc" fill-opacity="0.42"/>
<rect x="448.5" y="99.7" width="1.8" height="1.8" fill="#6678cc" fill-opacity="0.42"/>
<rect x="449.7" y="95.8" width="1.8" height="1.8" fill="#5c9e7a" fill-opacity="0.42"/>
<rect x="452.5" y="101.1" width="1.8" height="1.8" fill="#6678cc" fill-opacity="0.42"/>
<rect x="454.8" y="95.4" width="1.8" height="1.8" fill="#5c9e7a" fill-opacity="0.42"/>
<rect x="450.4" y="97.3" width="1.8" height="1.8" fill="#5c9e7a" fill-opacity="0.42"/>
<rect x="452.3" y="99.3" width="1.8" height="1.8" fill="#5c9e7a" fill-opacity="0.42"/>
<rect x="455.4" y="101.9" width="1.8" height="1.8" fill="#6678cc" fill-opacity="0.42"/>
<rect x="457.8" y="92.7" width="1.8" height="1.8" fill="#5c9e7a" fill-opacity="0.42"/>
<rect x="453.1" y="101.9" width="1.8" height="1.8" fill="#6678cc" fill-opacity="0.42"/>
<rect x="450.7" y="99.0" width="1.8" height="1.8" fill="#5c9e7a" fill-opacity="0.42"/>
<rect x="448.3" y="97.7" width="1.8" height="1.8" fill="#5c9e7a" fill-opacity="0.42"/>
<rect x="452.3" y="93.2" width="1.8" height="1.8" fill="#5c9e7a" fill-opacity="0.42"/>
<rect x="450.4" y="94.1" width="1.8" height="1.8" fill="#5c9e7a" fill-opacity="0.42"/>
<rect x="448.2" y="101.4" width="1.8" height="1.8" fill="#6678cc" fill-opacity="0.42"/>
<rect x="452.7" y="101.9" width="1.8" height="1.8" fill="#6678cc" fill-opacity="0.42"/>
<rect x="457.8" y="97.3" width="1.8" height="1.8" fill="#5c9e7a" fill-opacity="0.42"/>
<rect x="457.8" y="100.7" width="1.8" height="1.8" fill="#6678cc" fill-opacity="0.42"/>
<rect x="451.4" y="91.9" width="1.8" height="1.8" fill="#5c9e7a" fill-opacity="0.42"/>
<rect x="457.0" y="100.6" width="1.8" height="1.8" fill="#6678cc" fill-opacity="0.42"/>
<rect x="457.1" y="98.2" width="1.8" height="1.8" fill="#5c9e7a" fill-opacity="0.42"/>
<rect x="448.2" y="101.3" width="1.8" height="1.8" fill="#6678cc" fill-opacity="0.42"/>
<rect x="448.4" y="100.9" width="1.8" height="1.8" fill="#6678cc" fill-opacity="0.42"/>
<rect x="455.2" y="101.9" width="1.8" height="1.8" fill="#6678cc" fill-opacity="0.42"/>
<rect x="450.1" y="94.3" width="1.8" height="1.8" fill="#5c9e7a" fill-opacity="0.42"/>
<rect x="451.2" y="96.5" width="1.8" height="1.8" fill="#5c9e7a" fill-opacity="0.42"/>
<rect x="453.7" y="99.6" width="1.8" height="1.8" fill="#6678cc" fill-opacity="0.42"/>
<rect x="454.0" y="100.6" width="1.8" height="1.8" fill="#6678cc" fill-opacity="0.42"/>
<rect x="450.3" y="97.6" width="1.8" height="1.8" fill="#5c9e7a" fill-opacity="0.42"/>
<rect x="448.6" y="101.9" width="1.8" height="1.8" fill="#6678cc" fill-opacity="0.42"/>
<rect x="451.2" y="98.1" width="1.8" height="1.8" fill="#5c9e7a" fill-opacity="0.42"/>
<rect x="452.6" y="100.8" width="1.8" height="1.8" fill="#6678cc" fill-opacity="0.42"/>
<rect x="456.5" y="101.3" width="1.8" height="1.8" fill="#6678cc" fill-opacity="0.42"/>
<rect x="451.5" y="101.6" width="1.8" height="1.8" fill="#6678cc" fill-opacity="0.42"/>
<rect x="449.1" y="101.0" width="1.8" height="1.8" fill="#6678cc" fill-opacity="0.42"/>
<rect x="509.0" y="67.7" width="1.8" height="1.8" fill="#5c9e7a" fill-opacity="0.42"/>
<rect x="505.3" y="97.0" width="1.8" height="1.8" fill="#6678cc" fill-opacity="0.42"/>
<rect x="502.8" y="96.2" width="1.8" height="1.8" fill="#6678cc" fill-opacity="0.42"/>
<rect x="511.9" y="95.1" width="1.8" height="1.8" fill="#6678cc" fill-opacity="0.42"/>
<rect x="503.6" y="95.3" width="1.8" height="1.8" fill="#6678cc" fill-opacity="0.42"/>
<rect x="507.2" y="52.8" width="1.8" height="1.8" fill="#5c9e7a" fill-opacity="0.42"/>
<rect x="505.8" y="90.9" width="1.8" height="1.8" fill="#5c9e7a" fill-opacity="0.42"/>
<rect x="505.4" y="86.7" width="1.8" height="1.8" fill="#5c9e7a" fill-opacity="0.42"/>
<rect x="510.0" y="96.6" width="1.8" height="1.8" fill="#6678cc" fill-opacity="0.42"/>
<rect x="512.4" y="63.6" width="1.8" height="1.8" fill="#5c9e7a" fill-opacity="0.42"/>
<rect x="505.0" y="94.9" width="1.8" height="1.8" fill="#6678cc" fill-opacity="0.42"/>
<rect x="509.1" y="67.4" width="1.8" height="1.8" fill="#5c9e7a" fill-opacity="0.42"/>
<rect x="505.4" y="75.7" width="1.8" height="1.8" fill="#5c9e7a" fill-opacity="0.42"/>
<rect x="508.1" y="81.0" width="1.8" height="1.8" fill="#6678cc" fill-opacity="0.42"/>
<rect x="506.4" y="90.4" width="1.8" height="1.8" fill="#6678cc" fill-opacity="0.42"/>
<rect x="504.0" y="85.2" width="1.8" height="1.8" fill="#5c9e7a" fill-opacity="0.42"/>
<rect x="504.0" y="88.5" width="1.8" height="1.8" fill="#6678cc" fill-opacity="0.42"/>
<rect x="504.4" y="99.1" width="1.8" height="1.8" fill="#5c9e7a" fill-opacity="0.42"/>
<rect x="511.7" y="90.7" width="1.8" height="1.8" fill="#6678cc" fill-opacity="0.42"/>
<rect x="507.4" y="97.3" width="1.8" height="1.8" fill="#6678cc" fill-opacity="0.42"/>
<rect x="504.6" y="89.5" width="1.8" height="1.8" fill="#6678cc" fill-opacity="0.42"/>
<rect x="511.7" y="95.4" width="1.8" height="1.8" fill="#6678cc" fill-opacity="0.42"/>
<rect x="512.6" y="92.4" width="1.8" height="1.8" fill="#6678cc" fill-opacity="0.42"/>
<rect x="507.0" y="90.0" width="1.8" height="1.8" fill="#6678cc" fill-opacity="0.42"/>
<rect x="503.7" y="91.6" width="1.8" height="1.8" fill="#6678cc" fill-opacity="0.42"/>
<rect x="504.3" y="59.6" width="1.8" height="1.8" fill="#5c9e7a" fill-opacity="0.42"/>
<rect x="503.2" y="33.6" width="1.8" height="1.8" fill="#5c9e7a" fill-opacity="0.42"/>
<rect x="505.8" y="89.5" width="1.8" height="1.8" fill="#5c9e7a" fill-opacity="0.42"/>
<rect x="503.2" y="80.2" width="1.8" height="1.8" fill="#6678cc" fill-opacity="0.42"/>
<rect x="504.8" y="97.8" width="1.8" height="1.8" fill="#5c9e7a" fill-opacity="0.42"/>
<rect x="505.0" y="92.1" width="1.8" height="1.8" fill="#6678cc" fill-opacity="0.42"/>
<rect x="508.2" y="27.3" width="1.8" height="1.8" fill="#5c9e7a" fill-opacity="0.42"/>
<rect x="511.5" y="81.3" width="1.8" height="1.8" fill="#6678cc" fill-opacity="0.42"/>
<rect x="510.1" y="96.6" width="1.8" height="1.8" fill="#6678cc" fill-opacity="0.42"/>
<rect x="506.6" y="91.1" width="1.8" height="1.8" fill="#6678cc" fill-opacity="0.42"/>
<rect x="506.6" y="79.3" width="1.8" height="1.8" fill="#6678cc" fill-opacity="0.42"/>
<rect x="507.7" y="67.6" width="1.8" height="1.8" fill="#5c9e7a" fill-opacity="0.42"/>
<rect x="506.2" y="31.0" width="1.8" height="1.8" fill="#5c9e7a" fill-opacity="0.42"/>
<rect x="505.8" y="78.1" width="1.8" height="1.8" fill="#5c9e7a" fill-opacity="0.42"/>
<rect x="502.9" y="83.1" width="1.8" height="1.8" fill="#5c9e7a" fill-opacity="0.42"/>
<rect x="505.2" y="94.3" width="1.8" height="1.8" fill="#6678cc" fill-opacity="0.42"/>
<rect x="512.3" y="87.2" width="1.8" height="1.8" fill="#5c9e7a" fill-opacity="0.42"/>
<rect x="503.6" y="93.4" width="1.8" height="1.8" fill="#6678cc" fill-opacity="0.42"/>
<rect x="507.5" y="96.8" width="1.8" height="1.8" fill="#6678cc" fill-opacity="0.42"/>
<rect x="508.8" y="94.4" width="1.8" height="1.8" fill="#6678cc" fill-opacity="0.42"/>
<rect x="511.2" y="89.1" width="1.8" height="1.8" fill="#6678cc" fill-opacity="0.42"/>
<rect x="504.5" y="74.9" width="1.8" height="1.8" fill="#5c9e7a" fill-opacity="0.42"/>
<rect x="505.1" y="70.9" width="1.8" height="1.8" fill="#5c9e7a" fill-opacity="0.42"/>
<rect x="504.9" y="85.7" width="1.8" height="1.8" fill="#5c9e7a" fill-opacity="0.42"/>
<rect x="506.4" y="66.8" width="1.8" height="1.8" fill="#5c9e7a" fill-opacity="0.42"/>
<rect x="506.9" y="48.9" width="1.8" height="1.8" fill="#5c9e7a" fill-opacity="0.42"/>
<rect x="512.2" y="55.8" width="1.8" height="1.8" fill="#5c9e7a" fill-opacity="0.42"/>
<rect x="511.1" y="55.3" width="1.8" height="1.8" fill="#5c9e7a" fill-opacity="0.42"/>
<rect x="511.4" y="72.4" width="1.8" height="1.8" fill="#5c9e7a" fill-opacity="0.42"/>
<rect x="502.5" y="101.9" width="1.8" height="1.8" fill="#6678cc" fill-opacity="0.42"/>
<rect x="502.6" y="66.5" width="1.8" height="1.8" fill="#5c9e7a" fill-opacity="0.42"/>
<rect x="509.7" y="52.4" width="1.8" height="1.8" fill="#5c9e7a" fill-opacity="0.42"/>
<rect x="511.6" y="26.2" width="1.8" height="1.8" fill="#5c9e7a" fill-opacity="0.42"/>
<rect x="507.2" y="90.5" width="1.8" height="1.8" fill="#6678cc" fill-opacity="0.42"/>
<rect x="508.4" y="91.3" width="1.8" height="1.8" fill="#6678cc" fill-opacity="0.42"/>
<rect x="502.3" y="76.9" width="1.8" height="1.8" fill="#6678cc" fill-opacity="0.42"/>
<line x1="453.5" y1="98.5" x2="508.4" y2="66.7" stroke="#2a8846" stroke-width="1.1"/>
<line x1="453.5" y1="102.2" x2="508.4" y2="94.6" stroke="#3a4eb4" stroke-width="1.1"/>
<line x1="453.5" y1="97.5" x2="453.5" y2="99.5" stroke="#1e7a3c" stroke-width="1.9"/>
<circle cx="453.5" cy="98.5" r="2.75" fill="#1e7a3c"/>
<circle cx="453.5" cy="102.2" r="2.75" fill="#2b3fa2"/>
<line x1="508.4" y1="58.2" x2="508.4" y2="75.2" stroke="#1e7a3c" stroke-width="1.9"/>
<circle cx="508.4" cy="66.7" r="2.75" fill="#1e7a3c"/>
<line x1="508.4" y1="92.4" x2="508.4" y2="96.8" stroke="#2b3fa2" stroke-width="1.9"/>
<circle cx="508.4" cy="94.6" r="2.75" fill="#2b3fa2"/>
<rect x="426.1" y="11.3" width="109.7" height="92.5" fill="none" stroke="#000" stroke-width="1"/>
<line x1="453.5" y1="103.8" x2="453.5" y2="102.3" stroke="#000" stroke-width="0.8"/>
<line x1="453.5" y1="11.3" x2="453.5" y2="12.8" stroke="#000" stroke-width="0.8"/>
<line x1="508.4" y1="103.8" x2="508.4" y2="102.3" stroke="#000" stroke-width="0.8"/>
<line x1="508.4" y1="11.3" x2="508.4" y2="12.8" stroke="#000" stroke-width="0.8"/>
<line x1="426.1" y1="29.7" x2="427.6" y2="29.7" stroke="#000" stroke-width="0.8"/>
<line x1="535.8" y1="29.7" x2="534.3" y2="29.7" stroke="#000" stroke-width="0.8"/>
<text x="424.8" y="33.3" font-size="10.25" text-anchor="end">2.0</text>
<line x1="426.1" y1="48.2" x2="427.6" y2="48.2" stroke="#000" stroke-width="0.8"/>
<line x1="535.8" y1="48.2" x2="534.3" y2="48.2" stroke="#000" stroke-width="0.8"/>
<line x1="426.1" y1="66.7" x2="427.6" y2="66.7" stroke="#000" stroke-width="0.8"/>
<line x1="535.8" y1="66.7" x2="534.3" y2="66.7" stroke="#000" stroke-width="0.8"/>
<text x="424.8" y="70.3" font-size="10.25" text-anchor="end">1.0</text>
<line x1="426.1" y1="85.2" x2="427.6" y2="85.2" stroke="#000" stroke-width="0.8"/>
<line x1="535.8" y1="85.2" x2="534.3" y2="85.2" stroke="#000" stroke-width="0.8"/>
<line x1="426.1" y1="103.7" x2="427.6" y2="103.7" stroke="#000" stroke-width="0.8"/>
<line x1="535.8" y1="103.7" x2="534.3" y2="103.7" stroke="#000" stroke-width="0.8"/>
<text x="424.8" y="107.3" font-size="10.25" text-anchor="end">0.0</text>
<text x="453.5" y="114.3" font-size="10.25" font-weight="bold" text-anchor="middle">lower</text>
<text x="508.4" y="114.3" font-size="10.25" font-weight="bold" text-anchor="middle">upper</text>
<text x="428.7" y="24.3" font-size="13.8" font-weight="bold">C</text>
<text transform="translate(404.3,55.2) rotate(-90)" font-size="10.25" text-anchor="middle">Variance</text>
<rect x="598.6" y="93.7" width="1.8" height="1.8" fill="#6678cc" fill-opacity="0.42"/>
<rect x="599.2" y="81.2" width="1.8" height="1.8" fill="#6678cc" fill-opacity="0.42"/>
<rect x="595.2" y="87.6" width="1.8" height="1.8" fill="#5c9e7a" fill-opacity="0.42"/>
<rect x="598.0" y="86.4" width="1.8" height="1.8" fill="#5c9e7a" fill-opacity="0.42"/>
<rect x="594.6" y="80.2" width="1.8" height="1.8" fill="#5c9e7a" fill-opacity="0.42"/>
<rect x="594.3" y="71.6" width="1.8" height="1.8" fill="#5c9e7a" fill-opacity="0.42"/>
<rect x="600.0" y="92.4" width="1.8" height="1.8" fill="#5c9e7a" fill-opacity="0.42"/>
<rect x="595.7" y="95.9" width="1.8" height="1.8" fill="#6678cc" fill-opacity="0.42"/>
<rect x="597.9" y="94.7" width="1.8" height="1.8" fill="#6678cc" fill-opacity="0.42"/>
<rect x="603.8" y="90.2" width="1.8" height="1.8" fill="#6678cc" fill-opacity="0.42"/>
<rect x="603.7" y="95.1" width="1.8" height="1.8" fill="#6678cc" fill-opacity="0.42"/>
<rect x="595.4" y="95.4" width="1.8" height="1.8" fill="#6678cc" fill-opacity="0.42"/>
<rect x="594.9" y="74.4" width="1.8" height="1.8" fill="#5c9e7a" fill-opacity="0.42"/>
<rect x="598.3" y="95.5" width="1.8" height="1.8" fill="#6678cc" fill-opacity="0.42"/>
<rect x="602.8" y="91.2" width="1.8" height="1.8" fill="#6678cc" fill-opacity="0.42"/>
<rect x="596.0" y="86.8" width="1.8" height="1.8" fill="#5c9e7a" fill-opacity="0.42"/>
<rect x="599.2" y="92.1" width="1.8" height="1.8" fill="#6678cc" fill-opacity="0.42"/>
<rect x="601.6" y="90.3" width="1.8" height="1.8" fill="#5c9e7a" fill-opacity="0.42"/>
<rect x="601.4" y="95.4" width="1.8" height="1.8" fill="#6678cc" fill-opacity="0.42"/>
<rect x="601.7" y="89.8" width="1.8" height="1.8" fill="#5c9e7a" fill-opacity="0.42"/>
<rect x="596.6" y="44.0" width="1.8" height="1.8" fill="#5c9e7a" fill-opacity="0.42"/>
<rect x="596.5" y="94.6" width="1.8" height="1.8" fill="#6678cc" fill-opacity="0.42"/>
<rect x="596.3" y="94.2" width="1.8" height="1.8" fill="#6678cc" fill-opacity="0.42"/>
<rect x="596.2" y="97.0" width="1.8" height="1.8" fill="#5c9e7a" fill-opacity="0.42"/>
<rect x="596.3" y="97.9" width="1.8" height="1.8" fill="#5c9e7a" fill-opacity="0.42"/>
<rect x="598.1" y="96.3" width="1.8" height="1.8" fill="#6678cc" fill-opacity="0.42"/>
<rect x="595.5" y="96.0" width="1.8" height="1.8" fill="#6678cc" fill-opacity="0.42"/>
<rect x="596.0" y="93.0" width="1.8" height="1.8" fill="#6678cc" fill-opacity="0.42"/>
<rect x="596.5" y="70.6" width="1.8" height="1.8" fill="#5c9e7a" fill-opacity="0.42"/>
<rect x="603.0" y="87.0" width="1.8" height="1.8" fill="#5c9e7a" fill-opacity="0.42"/>
<rect x="595.5" y="97.7" width="1.8" height="1.8" fill="#6678cc" fill-opacity="0.42"/>
<rect x="594.2" y="96.2" width="1.8" height="1.8" fill="#5c9e7a" fill-opacity="0.42"/>
<rect x="596.2" y="80.5" width="1.8" height="1.8" fill="#5c9e7a" fill-opacity="0.42"/>
<rect x="596.1" y="98.8" width="1.8" height="1.8" fill="#6678cc" fill-opacity="0.42"/>
<rect x="599.0" y="98.9" width="1.8" height="1.8" fill="#5c9e7a" fill-opacity="0.42"/>
<rect x="600.3" y="75.8" width="1.8" height="1.8" fill="#5c9e7a" fill-opacity="0.42"/>
<rect x="594.6" y="89.9" width="1.8" height="1.8" fill="#6678cc" fill-opacity="0.42"/>
<rect x="598.4" y="35.9" width="1.8" height="1.8" fill="#5c9e7a" fill-opacity="0.42"/>
<rect x="593.9" y="96.1" width="1.8" height="1.8" fill="#6678cc" fill-opacity="0.42"/>
<rect x="593.6" y="93.6" width="1.8" height="1.8" fill="#6678cc" fill-opacity="0.42"/>
<rect x="602.7" y="96.6" width="1.8" height="1.8" fill="#6678cc" fill-opacity="0.42"/>
<rect x="596.0" y="94.5" width="1.8" height="1.8" fill="#6678cc" fill-opacity="0.42"/>
<rect x="598.2" y="86.5" width="1.8" height="1.8" fill="#5c9e7a" fill-opacity="0.42"/>
<rect x="597.4" y="62.3" width="1.8" height="1.8" fill="#5c9e7a" fill-opacity="0.42"/>
<rect x="602.7" y="58.8" width="1.8" height="1.8" fill="#5c9e7a" fill-opacity="0.42"/>
<rect x="596.0" y="91.8" width="1.8" height="1.8" fill="#6678cc" fill-opacity="0.42"/>
<rect x="594.1" y="81.7" width="1.8" height="1.8" fill="#6678cc" fill-opacity="0.42"/>
<rect x="599.8" y="94.3" width="1.8" height="1.8" fill="#6678cc" fill-opacity="0.42"/>
<rect x="602.2" y="95.1" width="1.8" height="1.8" fill="#5c9e7a" fill-opacity="0.42"/>
<rect x="595.6" y="79.0" width="1.8" height="1.8" fill="#5c9e7a" fill-opacity="0.42"/>
<rect x="594.3" y="98.9" width="1.8" height="1.8" fill="#5c9e7a" fill-opacity="0.42"/>
<rect x="598.9" y="84.6" width="1.8" height="1.8" fill="#5c9e7a" fill-opacity="0.42"/>
<rect x="595.4" y="40.1" width="1.8" height="1.8" fill="#5c9e7a" fill-opacity="0.42"/>
<rect x="599.8" y="91.7" width="1.8" height="1.8" fill="#6678cc" fill-opacity="0.42"/>
<rect x="601.6" y="36.5" width="1.8" height="1.8" fill="#5c9e7a" fill-opacity="0.42"/>
<rect x="600.5" y="83.7" width="1.8" height="1.8" fill="#5c9e7a" fill-opacity="0.42"/>
<rect x="593.6" y="32.4" width="1.8" height="1.8" fill="#5c9e7a" fill-opacity="0.42"/>
<rect x="600.2" y="93.2" width="1.8" height="1.8" fill="#6678cc" fill-opacity="0.42"/>
<rect x="600.9" y="94.1" width="1.8" height="1.8" fill="#6678cc" fill-opacity="0.42"/>
<rect x="597.2" y="99.8" width="1.8" height="1.8" fill="#6678cc" fill-opacity="0.42"/>
<rect x="652.2" y="83.8" width="1.8" height="1.8" fill="#5c9e7a" fill-opacity="0.42"/>
<rect x="650.1" y="98.9" width="1.8" height="1.8" fill="#5c9e7a" fill-opacity="0.42"/>
<rect x="659.4" y="95.1" width="1.8" height="1.8" fill="#5c9e7a" fill-opacity="0.42"/>
<rect x="654.5" y="92.8" width="1.8" height="1.8" fill="#5c9e7a" fill-opacity="0.42"/>
<rect x="658.6" y="92.1" width="1.8" height="1.8" fill="#5c9e7a" fill-opacity="0.42"/>
<rect x="654.3" y="93.1" width="1.8" height="1.8" fill="#6678cc" fill-opacity="0.42"/>
<rect x="659.2" y="95.0" width="1.8" height="1.8" fill="#6678cc" fill-opacity="0.42"/>
<rect x="654.8" y="98.1" width="1.8" height="1.8" fill="#5c9e7a" fill-opacity="0.42"/>
<rect x="651.7" y="84.2" width="1.8" height="1.8" fill="#5c9e7a" fill-opacity="0.42"/>
<rect x="650.2" y="97.0" width="1.8" height="1.8" fill="#6678cc" fill-opacity="0.42"/>
<rect x="655.8" y="92.1" width="1.8" height="1.8" fill="#6678cc" fill-opacity="0.42"/>
<rect x="656.7" y="99.1" width="1.8" height="1.8" fill="#6678cc" fill-opacity="0.42"/>
<rect x="659.5" y="93.2" width="1.8" height="1.8" fill="#6678cc" fill-opacity="0.42"/>
<rect x="651.0" y="94.5" width="1.8" height="1.8" fill="#6678cc" fill-opacity="0.42"/>
<rect x="656.5" y="97.4" width="1.8" height="1.8" fill="#6678cc" fill-opacity="0.42"/>
<rect x="653.9" y="88.9" width="1.8" height="1.8" fill="#5c9e7a" fill-opacity="0.42"/>
<rect x="655.3" y="44.6" width="1.8" height="1.8" fill="#5c9e7a" fill-opacity="0.42"/>
<rect x="651.6" y="91.9" width="1.8" height="1.8" fill="#6678cc" fill-opacity="0.42"/>
<rect x="653.0" y="92.6" width="1.8" height="1.8" fill="#6678cc" fill-opacity="0.42"/>
<rect x="655.5" y="95.3" width="1.8" height="1.8" fill="#5c9e7a" fill-opacity="0.42"/>
<rect x="659.7" y="95.6" width="1.8" height="1.8" fill="#6678cc" fill-opacity="0.42"/>
<rect x="651.2" y="95.2" width="1.8" height="1.8" fill="#5c9e7a" fill-opacity="0.42"/>
<rect x="655.2" y="96.0" width="1.8" height="1.8" fill="#6678cc" fill-opacity="0.42"/>
<rect x="658.4" y="96.4" width="1.8" height="1.8" fill="#6678cc" fill-opacity="0.42"/>
<rect x="660.1" y="39.9" width="1.8" height="1.8" fill="#5c9e7a" fill-opacity="0.42"/>
<rect x="652.1" y="95.0" width="1.8" height="1.8" fill="#6678cc" fill-opacity="0.42"/>
<rect x="651.4" y="95.3" width="1.8" height="1.8" fill="#6678cc" fill-opacity="0.42"/>
<rect x="659.9" y="88.0" width="1.8" height="1.8" fill="#5c9e7a" fill-opacity="0.42"/>
<rect x="660.2" y="62.7" width="1.8" height="1.8" fill="#6678cc" fill-opacity="0.42"/>
<rect x="655.1" y="91.1" width="1.8" height="1.8" fill="#5c9e7a" fill-opacity="0.42"/>
<rect x="650.6" y="45.3" width="1.8" height="1.8" fill="#5c9e7a" fill-opacity="0.42"/>
<rect x="659.7" y="90.5" width="1.8" height="1.8" fill="#5c9e7a" fill-opacity="0.42"/>
<rect x="654.1" y="92.6" width="1.8" height="1.8" fill="#6678cc" fill-opacity="0.42"/>
<rect x="659.5" y="91.3" width="1.8" height="1.8" fill="#6678cc" fill-opacity="0.42"/>
<rect x="656.5" y="91.8" width="1.8" height="1.8" fill="#6678cc" fill-opacity="0.42"/>
<rect x="658.6" y="88.2" width="1.8" height="1.8" fill="#6678cc" fill-opacity="0.42"/>
<rect x="651.7" y="93.5" width="1.8" height="1.8" fill="#6678cc" fill-opacity="0.42"/>
<rect x="658.2" y="90.2" width="1.8" height="1.8" fill="#6678cc" fill-opacity="0.42"/>
<rect x="652.4" y="90.4" width="1.8" height="1.8" fill="#5c9e7a" fill-opacity="0.42"/>
<rect x="654.3" y="79.0" width="1.8" height="1.8" fill="#5c9e7a" fill-opacity="0.42"/>
<rect x="658.9" y="94.3" width="1.8" height="1.8" fill="#6678cc" fill-opacity="0.42"/>
<rect x="658.7" y="91.9" width="1.8" height="1.8" fill="#5c9e7a" fill-opacity="0.42"/>
<rect x="652.0" y="90.0" width="1.8" height="1.8" fill="#6678cc" fill-opacity="0.42"/>
<rect x="652.3" y="94.9" width="1.8" height="1.8" fill="#6678cc" fill-opacity="0.42"/>
<rect x="654.2" y="52.4" width="1.8" height="1.8" fill="#5c9e7a" fill-opacity="0.42"/>
<rect x="655.4" y="80.3" width="1.8" height="1.8" fill="#5c9e7a" fill-opacity="0.42"/>
<rect x="654.0" y="95.3" width="1.8" height="1.8" fill="#5c9e7a" fill-opacity="0.42"/>
<rect x="651.3" y="89.8" width="1.8" height="1.8" fill="#6678cc" fill-opacity="0.42"/>
<rect x="652.6" y="91.8" width="1.8" height="1.8" fill="#6678cc" fill-opacity="0.42"/>
<rect x="657.6" y="97.9" width="1.8" height="1.8" fill="#6678cc" fill-opacity="0.42"/>
<rect x="659.4" y="94.4" width="1.8" height="1.8" fill="#6678cc" fill-opacity="0.42"/>
<rect x="650.5" y="93.5" width="1.8" height="1.8" fill="#6678cc" fill-opacity="0.42"/>
<rect x="655.9" y="89.0" width="1.8" height="1.8" fill="#5c9e7a" fill-opacity="0.42"/>
<rect x="657.9" y="86.9" width="1.8" height="1.8" fill="#5c9e7a" fill-opacity="0.42"/>
<rect x="650.4" y="78.0" width="1.8" height="1.8" fill="#6678cc" fill-opacity="0.42"/>
<rect x="658.8" y="80.3" width="1.8" height="1.8" fill="#5c9e7a" fill-opacity="0.42"/>
<rect x="651.3" y="84.6" width="1.8" height="1.8" fill="#5c9e7a" fill-opacity="0.42"/>
<rect x="656.3" y="68.4" width="1.8" height="1.8" fill="#5c9e7a" fill-opacity="0.42"/>
<rect x="655.8" y="87.8" width="1.8" height="1.8" fill="#5c9e7a" fill-opacity="0.42"/>
<line x1="599.6" y1="76.7" x2="656.1" y2="87.9" stroke="#2a8846" stroke-width="1.1"/>
<line x1="599.6" y1="95.2" x2="656.1" y2="95.4" stroke="#3a4eb4" stroke-width="1.1"/>
<line x1="599.6" y1="68.4" x2="599.6" y2="85.0" stroke="#1e7a3c" stroke-width="1.9"/>
<circle cx="599.6" cy="76.7" r="2.75" fill="#1e7a3c"/>
<line x1="599.6" y1="93.7" x2="599.6" y2="96.7" stroke="#2b3fa2" stroke-width="1.9"/>
<circle cx="599.6" cy="95.2" r="2.75" fill="#2b3fa2"/>
<line x1="656.1" y1="81.6" x2="656.1" y2="92.7" stroke="#1e7a3c" stroke-width="1.9"/>
<circle cx="656.1" cy="87.9" r="2.75" fill="#1e7a3c"/>
<line x1="656.1" y1="93.9" x2="656.1" y2="96.9" stroke="#2b3fa2" stroke-width="1.9"/>
<circle cx="656.1" cy="95.4" r="2.75" fill="#2b3fa2"/>
<rect x="571.4" y="11.3" width="113.0" height="92.5" fill="none" stroke="#000" stroke-width="1"/>
<line x1="599.6" y1="103.8" x2="599.6" y2="102.3" stroke="#000" stroke-width="0.8"/>
<line x1="599.6" y1="11.3" x2="599.6" y2="12.8" stroke="#000" stroke-width="0.8"/>
<line x1="656.1" y1="103.8" x2="656.1" y2="102.3" stroke="#000" stroke-width="0.8"/>
<line x1="656.1" y1="11.3" x2="656.1" y2="12.8" stroke="#000" stroke-width="0.8"/>
<line x1="571.4" y1="24.9" x2="572.9" y2="24.9" stroke="#000" stroke-width="0.8"/>
<line x1="684.4" y1="24.9" x2="682.9" y2="24.9" stroke="#000" stroke-width="0.8"/>
<text x="570.1" y="28.5" font-size="10.25" text-anchor="end">40</text>
<line x1="571.4" y1="44.6" x2="572.9" y2="44.6" stroke="#000" stroke-width="0.8"/>
<line x1="684.4" y1="44.6" x2="682.9" y2="44.6" stroke="#000" stroke-width="0.8"/>
<text x="570.1" y="48.2" font-size="10.25" text-anchor="end">30</text>
<line x1="571.4" y1="64.3" x2="572.9" y2="64.3" stroke="#000" stroke-width="0.8"/>
<line x1="684.4" y1="64.3" x2="682.9" y2="64.3" stroke="#000" stroke-width="0.8"/>
<text x="570.1" y="67.9" font-size="10.25" text-anchor="end">20</text>
<line x1="571.4" y1="84.0" x2="572.9" y2="84.0" stroke="#000" stroke-width="0.8"/>
<line x1="684.4" y1="84.0" x2="682.9" y2="84.0" stroke="#000" stroke-width="0.8"/>
<text x="570.1" y="87.6" font-size="10.25" text-anchor="end">10</text>
<line x1="571.4" y1="103.7" x2="572.9" y2="103.7" stroke="#000" stroke-width="0.8"/>
<line x1="684.4" y1="103.7" x2="682.9" y2="103.7" stroke="#000" stroke-width="0.8"/>
<text x="570.1" y="107.3" font-size="10.25" text-anchor="end">0</text>
<text x="599.6" y="114.3" font-size="10.25" font-weight="bold" text-anchor="middle">lower</text>
<text x="656.1" y="114.3" font-size="10.25" font-weight="bold" text-anchor="middle">upper</text>
<text x="574.0" y="24.3" font-size="13.8" font-weight="bold">D</text>
<text transform="translate(553.4,54.6) rotate(-90)" font-size="10.25" text-anchor="middle">Kurtosis</text>
<rect x="303.7" y="208.8" width="1.8" height="1.8" fill="#6678cc" fill-opacity="0.42"/>
<rect x="304.3" y="159.8" width="1.8" height="1.8" fill="#5c9e7a" fill-opacity="0.42"/>
<rect x="309.2" y="183.6" width="1.8" height="1.8" fill="#5c9e7a" fill-opacity="0.42"/>
<rect x="300.6" y="205.6" width="1.8" height="1.8" fill="#5c9e7a" fill-opacity="0.42"/>
<rect x="306.6" y="156.0" width="1.8" height="1.8" fill="#5c9e7a" fill-opacity="0.42"/>
<rect x="301.6" y="198.6" width="1.8" height="1.8" fill="#5c9e7a" fill-opacity="0.42"/>
<rect x="310.1" y="189.4" width="1.8" height="1.8" fill="#5c9e7a" fill-opacity="0.42"/>
<rect x="302.5" y="206.3" width="1.8" height="1.8" fill="#6678cc" fill-opacity="0.42"/>
<rect x="306.4" y="211.6" width="1.8" height="1.8" fill="#5c9e7a" fill-opacity="0.42"/>
<rect x="301.0" y="191.2" width="1.8" height="1.8" fill="#5c9e7a" fill-opacity="0.42"/>
<rect x="309.0" y="208.8" width="1.8" height="1.8" fill="#6678cc" fill-opacity="0.42"/>
<rect x="309.4" y="205.0" width="1.8" height="1.8" fill="#6678cc" fill-opacity="0.42"/>
<rect x="309.6" y="207.4" width="1.8" height="1.8" fill="#6678cc" fill-opacity="0.42"/>
<rect x="302.5" y="199.8" width="1.8" height="1.8" fill="#6678cc" fill-opacity="0.42"/>
<rect x="300.3" y="192.8" width="1.8" height="1.8" fill="#5c9e7a" fill-opacity="0.42"/>
<rect x="306.4" y="217.8" width="1.8" height="1.8" fill="#5c9e7a" fill-opacity="0.42"/>
<rect x="306.8" y="204.4" width="1.8" height="1.8" fill="#6678cc" fill-opacity="0.42"/>
<rect x="306.9" y="219.1" width="1.8" height="1.8" fill="#6678cc" fill-opacity="0.42"/>
<rect x="309.3" y="217.0" width="1.8" height="1.8" fill="#6678cc" fill-opacity="0.42"/>
<rect x="309.9" y="190.8" width="1.8" height="1.8" fill="#5c9e7a" fill-opacity="0.42"/>
<rect x="302.8" y="154.2" width="1.8" height="1.8" fill="#5c9e7a" fill-opacity="0.42"/>
<rect x="309.4" y="223.7" width="1.8" height="1.8" fill="#6678cc" fill-opacity="0.42"/>
<rect x="309.0" y="209.1" width="1.8" height="1.8" fill="#6678cc" fill-opacity="0.42"/>
<rect x="300.6" y="210.4" width="1.8" height="1.8" fill="#6678cc" fill-opacity="0.42"/>
<rect x="305.0" y="195.3" width="1.8" height="1.8" fill="#5c9e7a" fill-opacity="0.42"/>
<rect x="301.5" y="192.0" width="1.8" height="1.8" fill="#5c9e7a" fill-opacity="0.42"/>
<rect x="309.2" y="197.5" width="1.8" height="1.8" fill="#5c9e7a" fill-opacity="0.42"/>
<rect x="308.5" y="206.5" width="1.8" height="1.8" fill="#6678cc" fill-opacity="0.42"/>
<rect x="301.9" y="217.8" width="1.8" height="1.8" fill="#6678cc" fill-opacity="0.42"/>
<rect x="301.4" y="214.0" width="1.8" height="1.8" fill="#6678cc" fill-opacity="0.42"/>
<rect x="309.3" y="205.7" width="1.8" height="1.8" fill="#5c9e7a" fill-opacity="0.42"/>
<rect x="301.7" y="210.6" width="1.8" height="1.8" fill="#6678cc" fill-opacity="0.42"/>
<rect x="303.8" y="207.0" width="1.8" height="1.8" fill="#5c9e7a" fill-opacity="0.42"/>
<rect x="306.0" y="212.6" width="1.8" height="1.8" fill="#6678cc" fill-opacity="0.42"/>
<rect x="303.7" y="227.3" width="1.8" height="1.8" fill="#6678cc" fill-opacity="0.42"/>
<rect x="308.6" y="207.8" width="1.8" height="1.8" fill="#6678cc" fill-opacity="0.42"/>
<rect x="309.3" y="204.2" width="1.8" height="1.8" fill="#6678cc" fill-opacity="0.42"/>
<rect x="310.0" y="215.0" width="1.8" height="1.8" fill="#6678cc" fill-opacity="0.42"/>
<rect x="308.5" y="220.9" width="1.8" height="1.8" fill="#6678cc" fill-opacity="0.42"/>
<rect x="305.3" y="164.9" width="1.8" height="1.8" fill="#5c9e7a" fill-opacity="0.42"/>
<rect x="304.7" y="205.6" width="1.8" height="1.8" fill="#6678cc" fill-opacity="0.42"/>
<rect x="305.3" y="201.9" width="1.8" height="1.8" fill="#6678cc" fill-opacity="0.42"/>
<rect x="299.8" y="192.3" width="1.8" height="1.8" fill="#5c9e7a" fill-opacity="0.42"/>
<rect x="300.0" y="202.4" width="1.8" height="1.8" fill="#6678cc" fill-opacity="0.42"/>
<rect x="309.7" y="204.1" width="1.8" height="1.8" fill="#5c9e7a" fill-opacity="0.42"/>
<rect x="302.2" y="182.0" width="1.8" height="1.8" fill="#5c9e7a" fill-opacity="0.42"/>
<rect x="309.0" y="198.2" width="1.8" height="1.8" fill="#5c9e7a" fill-opacity="0.42"/>
<rect x="308.0" y="220.9" width="1.8" height="1.8" fill="#6678cc" fill-opacity="0.42"/>
<rect x="303.8" y="211.7" width="1.8" height="1.8" fill="#6678cc" fill-opacity="0.42"/>
<rect x="305.8" y="217.7" width="1.8" height="1.8" fill="#6678cc" fill-opacity="0.42"/>
<rect x="305.6" y="213.2" width="1.8" height="1.8" fill="#5c9e7a" fill-opacity="0.42"/>
<rect x="301.5" y="210.0" width="1.8" height="1.8" fill="#5c9e7a" fill-opacity="0.42"/>
<rect x="300.1" y="164.8" width="1.8" height="1.8" fill="#5c9e7a" fill-opacity="0.42"/>
<rect x="300.9" y="196.9" width="1.8" height="1.8" fill="#5c9e7a" fill-opacity="0.42"/>
<rect x="306.2" y="214.5" width="1.8" height="1.8" fill="#6678cc" fill-opacity="0.42"/>
<rect x="301.4" y="197.3" width="1.8" height="1.8" fill="#5c9e7a" fill-opacity="0.42"/>
<rect x="309.9" y="218.8" width="1.8" height="1.8" fill="#6678cc" fill-opacity="0.42"/>
<rect x="307.0" y="205.5" width="1.8" height="1.8" fill="#5c9e7a" fill-opacity="0.42"/>
<rect x="300.1" y="184.3" width="1.8" height="1.8" fill="#5c9e7a" fill-opacity="0.42"/>
<rect x="359.6" y="225.3" width="1.8" height="1.8" fill="#6678cc" fill-opacity="0.42"/>
<rect x="355.3" y="221.1" width="1.8" height="1.8" fill="#6678cc" fill-opacity="0.42"/>
<rect x="359.1" y="191.0" width="1.8" height="1.8" fill="#5c9e7a" fill-opacity="0.42"/>
<rect x="354.8" y="217.6" width="1.8" height="1.8" fill="#6678cc" fill-opacity="0.42"/>
<rect x="360.1" y="208.8" width="1.8" height="1.8" fill="#5c9e7a" fill-opacity="0.42"/>
<rect x="361.7" y="218.8" width="1.8" height="1.8" fill="#5c9e7a" fill-opacity="0.42"/>
<rect x="362.9" y="187.8" width="1.8" height="1.8" fill="#5c9e7a" fill-opacity="0.42"/>
<rect x="360.2" y="221.8" width="1.8" height="1.8" fill="#6678cc" fill-opacity="0.42"/>
<rect x="357.2" y="218.6" width="1.8" height="1.8" fill="#6678cc" fill-opacity="0.42"/>
<rect x="358.8" y="211.0" width="1.8" height="1.8" fill="#5c9e7a" fill-opacity="0.42"/>
<rect x="359.7" y="205.4" width="1.8" height="1.8" fill="#5c9e7a" fill-opacity="0.42"/>
<rect x="357.2" y="199.0" width="1.8" height="1.8" fill="#5c9e7a" fill-opacity="0.42"/>
<rect x="362.1" y="214.6" width="1.8" height="1.8" fill="#6678cc" fill-opacity="0.42"/>
<rect x="354.8" y="214.3" width="1.8" height="1.8" fill="#6678cc" fill-opacity="0.42"/>
<rect x="357.9" y="227.3" width="1.8" height="1.8" fill="#6678cc" fill-opacity="0.42"/>
<rect x="355.2" y="206.2" width="1.8" height="1.8" fill="#5c9e7a" fill-opacity="0.42"/>
<rect x="361.5" y="181.2" width="1.8" height="1.8" fill="#5c9e7a" fill-opacity="0.42"/>
<rect x="362.8" y="169.4" width="1.8" height="1.8" fill="#5c9e7a" fill-opacity="0.42"/>
<rect x="364.3" y="210.6" width="1.8" height="1.8" fill="#5c9e7a" fill-opacity="0.42"/>
<rect x="360.4" y="209.3" width="1.8" height="1.8" fill="#5c9e7a" fill-opacity="0.42"/>
<rect x="364.2" y="202.4" width="1.8" height="1.8" fill="#6678cc" fill-opacity="0.42"/>
<rect x="359.6" y="217.2" width="1.8" height="1.8" fill="#6678cc" fill-opacity="0.42"/>
<rect x="360.3" y="213.0" width="1.8" height="1.8" fill="#6678cc" fill-opacity="0.42"/>
<rect x="355.9" y="220.1" width="1.8" height="1.8" fill="#5c9e7a" fill-opacity="0.42"/>
<rect x="362.7" y="212.4" width="1.8" height="1.8" fill="#5c9e7a" fill-opacity="0.42"/>
<rect x="364.0" y="215.5" width="1.8" height="1.8" fill="#6678cc" fill-opacity="0.42"/>
<rect x="356.7" y="220.2" width="1.8" height="1.8" fill="#5c9e7a" fill-opacity="0.42"/>
<rect x="356.0" y="216.2" width="1.8" height="1.8" fill="#6678cc" fill-opacity="0.42"/>
<rect x="364.0" y="184.3" width="1.8" height="1.8" fill="#5c9e7a" fill-opacity="0.42"/>
<rect x="362.2" y="203.8" width="1.8" height="1.8" fill="#5c9e7a" fill-opacity="0.42"/>
<rect x="359.3" y="227.3" width="1.8" height="1.8" fill="#6678cc" fill-opacity="0.42"/>
<rect x="364.6" y="219.7" width="1.8" height="1.8" fill="#6678cc" fill-opacity="0.42"/>
<rect x="360.1" y="219.5" width="1.8" height="1.8" fill="#6678cc" fill-opacity="0.42"/>
<rect x="355.3" y="196.4" width="1.8" height="1.8" fill="#5c9e7a" fill-opacity="0.42"/>
<rect x="357.6" y="213.3" width="1.8" height="1.8" fill="#5c9e7a" fill-opacity="0.42"/>
<rect x="355.2" y="222.2" width="1.8" height="1.8" fill="#6678cc" fill-opacity="0.42"/>
<rect x="363.9" y="217.4" width="1.8" height="1.8" fill="#6678cc" fill-opacity="0.42"/>
<rect x="363.5" y="211.5" width="1.8" height="1.8" fill="#5c9e7a" fill-opacity="0.42"/>
<rect x="362.0" y="214.1" width="1.8" height="1.8" fill="#6678cc" fill-opacity="0.42"/>
<rect x="358.6" y="195.1" width="1.8" height="1.8" fill="#5c9e7a" fill-opacity="0.42"/>
<rect x="361.0" y="212.1" width="1.8" height="1.8" fill="#5c9e7a" fill-opacity="0.42"/>
<rect x="358.1" y="204.2" width="1.8" height="1.8" fill="#5c9e7a" fill-opacity="0.42"/>
<rect x="357.4" y="176.3" width="1.8" height="1.8" fill="#5c9e7a" fill-opacity="0.42"/>
<rect x="358.7" y="211.8" width="1.8" height="1.8" fill="#6678cc" fill-opacity="0.42"/>
<rect x="359.9" y="221.9" width="1.8" height="1.8" fill="#6678cc" fill-opacity="0.42"/>
<rect x="356.0" y="227.3" width="1.8" height="1.8" fill="#6678cc" fill-opacity="0.42"/>
<rect x="364.5" y="219.2" width="1.8" height="1.8" fill="#5c9e7a" fill-opacity="0.42"/>
<rect x="360.8" y="161.0" width="1.8" height="1.8" fill="#5c9e7a" fill-opacity="0.42"/>
<rect x="364.1" y="217.7" width="1.8" height="1.8" fill="#6678cc" fill-opacity="0.42"/>
<rect x="355.6" y="214.0" width="1.8" height="1.8" fill="#6678cc" fill-opacity="0.42"/>
<rect x="360.4" y="209.5" width="1.8" height="1.8" fill="#6678cc" fill-opacity="0.42"/>
<rect x="361.4" y="218.3" width="1.8" height="1.8" fill="#6678cc" fill-opacity="0.42"/>
<rect x="360.5" y="196.6" width="1.8" height="1.8" fill="#5c9e7a" fill-opacity="0.42"/>
<rect x="354.6" y="201.0" width="1.8" height="1.8" fill="#6678cc" fill-opacity="0.42"/>
<rect x="360.3" y="206.2" width="1.8" height="1.8" fill="#5c9e7a" fill-opacity="0.42"/>
<rect x="359.7" y="216.8" width="1.8" height="1.8" fill="#6678cc" fill-opacity="0.42"/>
<rect x="363.3" y="222.4" width="1.8" height="1.8" fill="#6678cc" fill-opacity="0.42"/>
<rect x="358.9" y="218.6" width="1.8" height="1.8" fill="#6678cc" fill-opacity="0.42"/>
<rect x="360.0" y="207.4" width="1.8" height="1.8" fill="#5c9e7a" fill-opacity="0.42"/>
<line x1="305.9" y1="193.8" x2="360.4" y2="204.6" stroke="#2a8846" stroke-width="1.1"/>
<line x1="305.9" y1="215.8" x2="360.4" y2="217.2" stroke="#3a4eb4" stroke-width="1.1"/>
<line x1="305.9" y1="187.0" x2="305.9" y2="200.6" stroke="#1e7a3c" stroke-width="1.9"/>
<circle cx="305.9" cy="193.8" r="2.75" fill="#1e7a3c"/>
<line x1="305.9" y1="212.3" x2="305.9" y2="219.3" stroke="#2b3fa2" stroke-width="1.9"/>
<circle cx="305.9" cy="215.8" r="2.75" fill="#2b3fa2"/>
<line x1="360.4" y1="197.6" x2="360.4" y2="211.6" stroke="#1e7a3c" stroke-width="1.9"/>
<circle cx="360.4" cy="204.6" r="2.75" fill="#1e7a3c"/>
<line x1="360.4" y1="214.2" x2="360.4" y2="220.2" stroke="#2b3fa2" stroke-width="1.9"/>
<circle cx="360.4" cy="217.2" r="2.75" fill="#2b3fa2"/>
<rect x="278.6" y="137.0" width="109.0" height="92.2" fill="none" stroke="#000" stroke-width="1"/>
<line x1="305.9" y1="229.2" x2="305.9" y2="227.7" stroke="#000" stroke-width="0.8"/>
<line x1="305.9" y1="137.0" x2="305.9" y2="138.5" stroke="#000" stroke-width="0.8"/>
<line x1="360.4" y1="229.2" x2="360.4" y2="227.7" stroke="#000" stroke-width="0.8"/>
<line x1="360.4" y1="137.0" x2="360.4" y2="138.5" stroke="#000" stroke-width="0.8"/>
<line x1="278.6" y1="137.0" x2="280.1" y2="137.0" stroke="#000" stroke-width="0.8"/>
<line x1="387.6" y1="137.0" x2="386.1" y2="137.0" stroke="#000" stroke-width="0.8"/>
<text x="277.3" y="140.6" font-size="10.25" text-anchor="end">6.0</text>
<line x1="278.6" y1="167.7" x2="280.1" y2="167.7" stroke="#000" stroke-width="0.8"/>
<line x1="387.6" y1="167.7" x2="386.1" y2="167.7" stroke="#000" stroke-width="0.8"/>
<text x="277.3" y="171.3" font-size="10.25" text-anchor="end">4.0</text>
<line x1="278.6" y1="198.5" x2="280.1" y2="198.5" stroke="#000" stroke-width="0.8"/>
<line x1="387.6" y1="198.5" x2="386.1" y2="198.5" stroke="#000" stroke-width="0.8"/>
<text x="277.3" y="202.1" font-size="10.25" text-anchor="end">2.0</text>
<line x1="278.6" y1="229.2" x2="280.1" y2="229.2" stroke="#000" stroke-width="0.8"/>
<line x1="387.6" y1="229.2" x2="386.1" y2="229.2" stroke="#000" stroke-width="0.8"/>
<text x="277.3" y="232.8" font-size="10.25" text-anchor="end">0.0</text>
<text x="305.9" y="239.7" font-size="10.25" font-weight="bold" text-anchor="middle">lower</text>
<text x="360.4" y="239.7" font-size="10.25" font-weight="bold" text-anchor="middle">upper</text>
<text x="281.2" y="150.0" font-size="13.8" font-weight="bold">E</text>
<text transform="translate(256.4,182.9) rotate(-90)" font-size="10.25" text-anchor="middle">Skewness</text>
<line x1="426.6" y1="183.1" x2="535.9" y2="183.1" stroke="#505050" stroke-width="1.25" stroke-dasharray="1.9 4.25" stroke-dashoffset="1.4"/>
<rect x="454.4" y="153.8" width="1.8" height="1.8" fill="#5c9e7a" fill-opacity="0.42"/>
<rect x="448.0" y="159.3" width="1.8" height="1.8" fill="#6678cc" fill-opacity="0.42"/>
<rect x="447.9" y="165.1" width="1.8" height="1.8" fill="#5c9e7a" fill-opacity="0.42"/>
<rect x="457.7" y="155.5" width="1.8" height="1.8" fill="#6678cc" fill-opacity="0.42"/>
<rect x="454.6" y="144.4" width="1.8" height="1.8" fill="#6678cc" fill-opacity="0.42"/>
<rect x="450.4" y="151.8" width="1.8" height="1.8" fill="#5c9e7a" fill-opacity="0.42"/>
<rect x="448.9" y="145.8" width="1.8" height="1.8" fill="#6678cc" fill-opacity="0.42"/>
<rect x="449.3" y="154.7" width="1.8" height="1.8" fill="#5c9e7a" fill-opacity="0.42"/>
<rect x="450.3" y="178.0" width="1.8" height="1.8" fill="#6678cc" fill-opacity="0.42"/>
<rect x="455.9" y="152.4" width="1.8" height="1.8" fill="#5c9e7a" fill-opacity="0.42"/>
<rect x="451.4" y="149.3" width="1.8" height="1.8" fill="#6678cc" fill-opacity="0.42"/>
<rect x="449.4" y="153.9" width="1.8" height="1.8" fill="#5c9e7a" fill-opacity="0.42"/>
<rect x="457.2" y="147.9" width="1.8" height="1.8" fill="#5c9e7a" fill-opacity="0.42"/>
<rect x="456.1" y="157.6" width="1.8" height="1.8" fill="#6678cc" fill-opacity="0.42"/>
<rect x="449.6" y="144.4" width="1.8" height="1.8" fill="#5c9e7a" fill-opacity="0.42"/>
<rect x="457.1" y="163.3" width="1.8" height="1.8" fill="#5c9e7a" fill-opacity="0.42"/>
<rect x="454.2" y="147.2" width="1.8" height="1.8" fill="#6678cc" fill-opacity="0.42"/>
<rect x="456.0" y="176.9" width="1.8" height="1.8" fill="#6678cc" fill-opacity="0.42"/>
<rect x="454.8" y="161.4" width="1.8" height="1.8" fill="#6678cc" fill-opacity="0.42"/>
<rect x="457.1" y="146.1" width="1.8" height="1.8" fill="#6678cc" fill-opacity="0.42"/>
<rect x="456.0" y="155.5" width="1.8" height="1.8" fill="#5c9e7a" fill-opacity="0.42"/>
<rect x="456.5" y="157.9" width="1.8" height="1.8" fill="#5c9e7a" fill-opacity="0.42"/>
<rect x="449.9" y="151.4" width="1.8" height="1.8" fill="#6678cc" fill-opacity="0.42"/>
<rect x="455.0" y="151.4" width="1.8" height="1.8" fill="#5c9e7a" fill-opacity="0.42"/>
<rect x="453.3" y="153.1" width="1.8" height="1.8" fill="#5c9e7a" fill-opacity="0.42"/>
<rect x="455.5" y="152.2" width="1.8" height="1.8" fill="#5c9e7a" fill-opacity="0.42"/>
<rect x="452.4" y="148.3" width="1.8" height="1.8" fill="#5c9e7a" fill-opacity="0.42"/>
<rect x="457.0" y="150.7" width="1.8" height="1.8" fill="#6678cc" fill-opacity="0.42"/>
<rect x="453.6" y="167.4" width="1.8" height="1.8" fill="#6678cc" fill-opacity="0.42"/>
<rect x="450.6" y="153.5" width="1.8" height="1.8" fill="#6678cc" fill-opacity="0.42"/>
<rect x="450.3" y="144.4" width="1.8" height="1.8" fill="#5c9e7a" fill-opacity="0.42"/>
<rect x="449.3" y="152.6" width="1.8" height="1.8" fill="#5c9e7a" fill-opacity="0.42"/>
<rect x="453.0" y="153.3" width="1.8" height="1.8" fill="#5c9e7a" fill-opacity="0.42"/>
<rect x="448.4" y="150.2" width="1.8" height="1.8" fill="#6678cc" fill-opacity="0.42"/>
<rect x="452.7" y="154.0" width="1.8" height="1.8" fill="#6678cc" fill-opacity="0.42"/>
<rect x="449.3" y="159.4" width="1.8" height="1.8" fill="#6678cc" fill-opacity="0.42"/>
<rect x="452.9" y="159.1" width="1.8" height="1.8" fill="#6678cc" fill-opacity="0.42"/>
<rect x="453.0" y="153.6" width="1.8" height="1.8" fill="#6678cc" fill-opacity="0.42"/>
<rect x="453.4" y="150.6" width="1.8" height="1.8" fill="#5c9e7a" fill-opacity="0.42"/>
<rect x="456.8" y="168.7" width="1.8" height="1.8" fill="#6678cc" fill-opacity="0.42"/>
<rect x="447.9" y="165.0" width="1.8" height="1.8" fill="#5c9e7a" fill-opacity="0.42"/>
<rect x="456.6" y="157.2" width="1.8" height="1.8" fill="#6678cc" fill-opacity="0.42"/>
<rect x="452.7" y="152.7" width="1.8" height="1.8" fill="#6678cc" fill-opacity="0.42"/>
<rect x="453.7" y="149.3" width="1.8" height="1.8" fill="#5c9e7a" fill-opacity="0.42"/>
<rect x="454.7" y="151.5" width="1.8" height="1.8" fill="#5c9e7a" fill-opacity="0.42"/>
<rect x="456.6" y="145.9" width="1.8" height="1.8" fill="#5c9e7a" fill-opacity="0.42"/>
<rect x="451.7" y="154.4" width="1.8" height="1.8" fill="#6678cc" fill-opacity="0.42"/>
<rect x="452.2" y="154.0" width="1.8" height="1.8" fill="#6678cc" fill-opacity="0.42"/>
<rect x="457.8" y="150.1" width="1.8" height="1.8" fill="#6678cc" fill-opacity="0.42"/>
<rect x="448.6" y="155.5" width="1.8" height="1.8" fill="#5c9e7a" fill-opacity="0.42"/>
<rect x="454.5" y="144.4" width="1.8" height="1.8" fill="#6678cc" fill-opacity="0.42"/>
<rect x="454.4" y="151.0" width="1.8" height="1.8" fill="#5c9e7a" fill-opacity="0.42"/>
<rect x="448.1" y="159.4" width="1.8" height="1.8" fill="#6678cc" fill-opacity="0.42"/>
<rect x="454.2" y="154.1" width="1.8" height="1.8" fill="#5c9e7a" fill-opacity="0.42"/>
<rect x="454.9" y="151.2" width="1.8" height="1.8" fill="#5c9e7a" fill-opacity="0.42"/>
<rect x="457.5" y="155.1" width="1.8" height="1.8" fill="#5c9e7a" fill-opacity="0.42"/>
<rect x="451.3" y="154.8" width="1.8" height="1.8" fill="#6678cc" fill-opacity="0.42"/>
<rect x="458.0" y="153.3" width="1.8" height="1.8" fill="#5c9e7a" fill-opacity="0.42"/>
<rect x="453.1" y="149.8" width="1.8" height="1.8" fill="#6678cc" fill-opacity="0.42"/>
<rect x="502.5" y="189.5" width="1.8" height="1.8" fill="#5c9e7a" fill-opacity="0.42"/>
<rect x="504.5" y="186.6" width="1.8" height="1.8" fill="#5c9e7a" fill-opacity="0.42"/>
<rect x="512.1" y="201.8" width="1.8" height="1.8" fill="#6678cc" fill-opacity="0.42"/>
<rect x="508.8" y="183.9" width="1.8" height="1.8" fill="#5c9e7a" fill-opacity="0.42"/>
<rect x="509.3" y="184.8" width="1.8" height="1.8" fill="#6678cc" fill-opacity="0.42"/>
<rect x="510.7" y="180.2" width="1.8" height="1.8" fill="#5c9e7a" fill-opacity="0.42"/>
<rect x="511.9" y="181.8" width="1.8" height="1.8" fill="#5c9e7a" fill-opacity="0.42"/>
<rect x="508.8" y="198.9" width="1.8" height="1.8" fill="#6678cc" fill-opacity="0.42"/>
<rect x="508.9" y="167.3" width="1.8" height="1.8" fill="#5c9e7a" fill-opacity="0.42"/>
<rect x="509.0" y="187.1" width="1.8" height="1.8" fill="#5c9e7a" fill-opacity="0.42"/>
<rect x="509.7" y="181.0" width="1.8" height="1.8" fill="#5c9e7a" fill-opacity="0.42"/>
<rect x="508.7" y="181.0" width="1.8" height="1.8" fill="#5c9e7a" fill-opacity="0.42"/>
<rect x="509.6" y="170.1" width="1.8" height="1.8" fill="#5c9e7a" fill-opacity="0.42"/>
<rect x="504.7" y="212.6" width="1.8" height="1.8" fill="#6678cc" fill-opacity="0.42"/>
<rect x="509.4" y="191.2" width="1.8" height="1.8" fill="#6678cc" fill-opacity="0.42"/>
<rect x="507.2" y="207.5" width="1.8" height="1.8" fill="#6678cc" fill-opacity="0.42"/>
<rect x="510.4" y="194.4" width="1.8" height="1.8" fill="#6678cc" fill-opacity="0.42"/>
<rect x="503.5" y="201.8" width="1.8" height="1.8" fill="#6678cc" fill-opacity="0.42"/>
<rect x="504.4" y="186.1" width="1.8" height="1.8" fill="#6678cc" fill-opacity="0.42"/>
<rect x="502.9" y="200.3" width="1.8" height="1.8" fill="#6678cc" fill-opacity="0.42"/>
<rect x="510.5" y="198.6" width="1.8" height="1.8" fill="#6678cc" fill-opacity="0.42"/>
<rect x="512.0" y="182.7" width="1.8" height="1.8" fill="#5c9e7a" fill-opacity="0.42"/>
<rect x="509.3" y="192.3" width="1.8" height="1.8" fill="#6678cc" fill-opacity="0.42"/>
<rect x="506.3" y="184.4" width="1.8" height="1.8" fill="#5c9e7a" fill-opacity="0.42"/>
<rect x="511.0" y="201.2" width="1.8" height="1.8" fill="#6678cc" fill-opacity="0.42"/>
<rect x="510.7" y="187.1" width="1.8" height="1.8" fill="#6678cc" fill-opacity="0.42"/>
<rect x="508.3" y="185.4" width="1.8" height="1.8" fill="#6678cc" fill-opacity="0.42"/>
<rect x="505.2" y="185.4" width="1.8" height="1.8" fill="#5c9e7a" fill-opacity="0.42"/>
<rect x="505.6" y="181.0" width="1.8" height="1.8" fill="#5c9e7a" fill-opacity="0.42"/>
<rect x="506.9" y="192.5" width="1.8" height="1.8" fill="#5c9e7a" fill-opacity="0.42"/>
<rect x="505.8" y="198.2" width="1.8" height="1.8" fill="#6678cc" fill-opacity="0.42"/>
<rect x="507.0" y="184.5" width="1.8" height="1.8" fill="#5c9e7a" fill-opacity="0.42"/>
<rect x="509.1" y="188.5" width="1.8" height="1.8" fill="#6678cc" fill-opacity="0.42"/>
<rect x="512.2" y="191.5" width="1.8" height="1.8" fill="#6678cc" fill-opacity="0.42"/>
<rect x="503.0" y="177.3" width="1.8" height="1.8" fill="#5c9e7a" fill-opacity="0.42"/>
<rect x="508.4" y="181.3" width="1.8" height="1.8" fill="#5c9e7a" fill-opacity="0.42"/>
<rect x="502.9" y="189.5" width="1.8" height="1.8" fill="#6678cc" fill-opacity="0.42"/>
<rect x="503.7" y="200.3" width="1.8" height="1.8" fill="#6678cc" fill-opacity="0.42"/>
<rect x="510.9" y="201.5" width="1.8" height="1.8" fill="#6678cc" fill-opacity="0.42"/>
<rect x="508.5" y="175.8" width="1.8" height="1.8" fill="#5c9e7a" fill-opacity="0.42"/>
<rect x="512.0" y="190.5" width="1.8" height="1.8" fill="#6678cc" fill-opacity="0.42"/>
<rect x="507.1" y="200.1" width="1.8" height="1.8" fill="#6678cc" fill-opacity="0.42"/>
<rect x="502.6" y="193.0" width="1.8" height="1.8" fill="#6678cc" fill-opacity="0.42"/>
<rect x="506.5" y="193.4" width="1.8" height="1.8" fill="#6678cc" fill-opacity="0.42"/>
<rect x="508.6" y="201.9" width="1.8" height="1.8" fill="#6678cc" fill-opacity="0.42"/>
<rect x="512.2" y="181.3" width="1.8" height="1.8" fill="#5c9e7a" fill-opacity="0.42"/>
<rect x="512.7" y="198.6" width="1.8" height="1.8" fill="#6678cc" fill-opacity="0.42"/>
<rect x="507.4" y="190.4" width="1.8" height="1.8" fill="#5c9e7a" fill-opacity="0.42"/>
<rect x="506.8" y="185.7" width="1.8" height="1.8" fill="#5c9e7a" fill-opacity="0.42"/>
<rect x="503.5" y="179.5" width="1.8" height="1.8" fill="#5c9e7a" fill-opacity="0.42"/>
<rect x="509.2" y="187.8" width="1.8" height="1.8" fill="#6678cc" fill-opacity="0.42"/>
<rect x="504.7" y="176.0" width="1.8" height="1.8" fill="#5c9e7a" fill-opacity="0.42"/>
<rect x="504.1" y="194.6" width="1.8" height="1.8" fill="#6678cc" fill-opacity="0.42"/>
<rect x="502.6" y="188.9" width="1.8" height="1.8" fill="#5c9e7a" fill-opacity="0.42"/>
<rect x="502.5" y="185.0" width="1.8" height="1.8" fill="#5c9e7a" fill-opacity="0.42"/>
<rect x="509.6" y="177.0" width="1.8" height="1.8" fill="#5c9e7a" fill-opacity="0.42"/>
<rect x="503.7" y="193.6" width="1.8" height="1.8" fill="#6678cc" fill-opacity="0.42"/>
<rect x="512.5" y="195.6" width="1.8" height="1.8" fill="#6678cc" fill-opacity="0.42"/>
<line x1="453.9" y1="152.8" x2="508.6" y2="186.5" stroke="#2a8846" stroke-width="1.1"/>
<line x1="453.9" y1="156.0" x2="508.6" y2="196.0" stroke="#3a4eb4" stroke-width="1.1"/>
<line x1="453.9" y1="150.8" x2="453.9" y2="154.8" stroke="#1e7a3c" stroke-width="1.9"/>
<circle cx="453.9" cy="152.8" r="2.75" fill="#1e7a3c"/>
<line x1="453.9" y1="154.0" x2="453.9" y2="158.0" stroke="#2b3fa2" stroke-width="1.9"/>
<circle cx="453.9" cy="156.0" r="2.75" fill="#2b3fa2"/>
<line x1="508.6" y1="182.5" x2="508.6" y2="190.5" stroke="#1e7a3c" stroke-width="1.9"/>
<circle cx="508.6" cy="186.5" r="2.75" fill="#1e7a3c"/>
<line x1="508.6" y1="193.8" x2="508.6" y2="198.2" stroke="#2b3fa2" stroke-width="1.9"/>
<circle cx="508.6" cy="196.0" r="2.75" fill="#2b3fa2"/>
<rect x="426.6" y="137.0" width="109.3" height="92.2" fill="none" stroke="#000" stroke-width="1"/>
<line x1="453.9" y1="229.2" x2="453.9" y2="227.7" stroke="#000" stroke-width="0.8"/>
<line x1="453.9" y1="137.0" x2="453.9" y2="138.5" stroke="#000" stroke-width="0.8"/>
<line x1="508.6" y1="229.2" x2="508.6" y2="227.7" stroke="#000" stroke-width="0.8"/>
<line x1="508.6" y1="137.0" x2="508.6" y2="138.5" stroke="#000" stroke-width="0.8"/>
<line x1="426.6" y1="144.6" x2="428.1" y2="144.6" stroke="#000" stroke-width="0.8"/>
<line x1="535.9" y1="144.6" x2="534.4" y2="144.6" stroke="#000" stroke-width="0.8"/>
<text x="425.3" y="148.2" font-size="10.25" text-anchor="end">1.0</text>
<line x1="426.6" y1="183.1" x2="428.1" y2="183.1" stroke="#000" stroke-width="0.8"/>
<line x1="535.9" y1="183.1" x2="534.4" y2="183.1" stroke="#000" stroke-width="0.8"/>
<text x="425.3" y="186.7" font-size="10.25" text-anchor="end">0.5</text>
<line x1="426.6" y1="221.7" x2="428.1" y2="221.7" stroke="#000" stroke-width="0.8"/>
<line x1="535.9" y1="221.7" x2="534.4" y2="221.7" stroke="#000" stroke-width="0.8"/>
<text x="425.3" y="225.2" font-size="10.25" text-anchor="end">0.0</text>
<text x="453.9" y="239.7" font-size="10.25" font-weight="bold" text-anchor="middle">lower</text>
<text x="508.6" y="239.7" font-size="10.25" font-weight="bold" text-anchor="middle">upper</text>
<text x="429.2" y="150.0" font-size="13.8" font-weight="bold">F</text>
<text transform="translate(404.8,182.3) rotate(-90)" font-size="10.25" text-anchor="middle">Prop. negative contrast</text>
<line x1="575.2" y1="183.1" x2="684.3" y2="183.1" stroke="#505050" stroke-width="1.25" stroke-dasharray="1.9 4.25" stroke-dashoffset="1.4"/>
<rect x="602.2" y="183.7" width="1.8" height="1.8" fill="#6678cc" fill-opacity="0.42"/>
<rect x="605.4" y="167.3" width="1.8" height="1.8" fill="#6678cc" fill-opacity="0.42"/>
<rect x="601.1" y="176.4" width="1.8" height="1.8" fill="#5c9e7a" fill-opacity="0.42"/>
<rect x="606.2" y="177.2" width="1.8" height="1.8" fill="#5c9e7a" fill-opacity="0.42"/>
<rect x="605.8" y="182.0" width="1.8" height="1.8" fill="#6678cc" fill-opacity="0.42"/>
<rect x="597.0" y="177.8" width="1.8" height="1.8" fill="#5c9e7a" fill-opacity="0.42"/>
<rect x="602.6" y="180.7" width="1.8" height="1.8" fill="#6678cc" fill-opacity="0.42"/>
<rect x="600.5" y="179.7" width="1.8" height="1.8" fill="#6678cc" fill-opacity="0.42"/>
<rect x="597.6" y="168.7" width="1.8" height="1.8" fill="#6678cc" fill-opacity="0.42"/>
<rect x="606.4" y="174.5" width="1.8" height="1.8" fill="#6678cc" fill-opacity="0.42"/>
<rect x="599.0" y="176.4" width="1.8" height="1.8" fill="#5c9e7a" fill-opacity="0.42"/>
<rect x="602.2" y="183.4" width="1.8" height="1.8" fill="#6678cc" fill-opacity="0.42"/>
<rect x="603.0" y="181.3" width="1.8" height="1.8" fill="#6678cc" fill-opacity="0.42"/>
<rect x="606.3" y="176.2" width="1.8" height="1.8" fill="#6678cc" fill-opacity="0.42"/>
<rect x="603.3" y="176.2" width="1.8" height="1.8" fill="#5c9e7a" fill-opacity="0.42"/>
<rect x="600.5" y="179.0" width="1.8" height="1.8" fill="#5c9e7a" fill-opacity="0.42"/>
<rect x="601.0" y="172.6" width="1.8" height="1.8" fill="#6678cc" fill-opacity="0.42"/>
<rect x="598.0" y="177.2" width="1.8" height="1.8" fill="#5c9e7a" fill-opacity="0.42"/>
<rect x="606.4" y="172.9" width="1.8" height="1.8" fill="#6678cc" fill-opacity="0.42"/>
<rect x="606.7" y="171.6" width="1.8" height="1.8" fill="#5c9e7a" fill-opacity="0.42"/>
<rect x="598.7" y="181.3" width="1.8" height="1.8" fill="#6678cc" fill-opacity="0.42"/>
<rect x="596.8" y="181.7" width="1.8" height="1.8" fill="#6678cc" fill-opacity="0.42"/>
<rect x="599.0" y="177.7" width="1.8" height="1.8" fill="#6678cc" fill-opacity="0.42"/>
<rect x="600.0" y="173.9" width="1.8" height="1.8" fill="#6678cc" fill-opacity="0.42"/>
<rect x="605.8" y="175.3" width="1.8" height="1.8" fill="#6678cc" fill-opacity="0.42"/>
<rect x="605.8" y="174.1" width="1.8" height="1.8" fill="#6678cc" fill-opacity="0.42"/>
<rect x="605.1" y="180.6" width="1.8" height="1.8" fill="#6678cc" fill-opacity="0.42"/>
<rect x="596.9" y="175.7" width="1.8" height="1.8" fill="#5c9e7a" fill-opacity="0.42"/>
<rect x="604.6" y="171.4" width="1.8" height="1.8" fill="#5c9e7a" fill-opacity="0.42"/>
<rect x="603.8" y="169.1" width="1.8" height="1.8" fill="#5c9e7a" fill-opacity="0.42"/>
<rect x="603.1" y="182.1" width="1.8" height="1.8" fill="#5c9e7a" fill-opacity="0.42"/>
<rect x="606.6" y="174.5" width="1.8" height="1.8" fill="#5c9e7a" fill-opacity="0.42"/>
<rect x="597.0" y="179.7" width="1.8" height="1.8" fill="#6678cc" fill-opacity="0.42"/>
<rect x="597.9" y="173.2" width="1.8" height="1.8" fill="#5c9e7a" fill-opacity="0.42"/>
<rect x="604.2" y="176.1" width="1.8" height="1.8" fill="#5c9e7a" fill-opacity="0.42"/>
<rect x="606.1" y="181.2" width="1.8" height="1.8" fill="#6678cc" fill-opacity="0.42"/>
<rect x="603.4" y="178.0" width="1.8" height="1.8" fill="#5c9e7a" fill-opacity="0.42"/>
<rect x="599.5" y="171.7" width="1.8" height="1.8" fill="#6678cc" fill-opacity="0.42"/>
<rect x="602.5" y="181.1" width="1.8" height="1.8" fill="#6678cc" fill-opacity="0.42"/>
<rect x="604.3" y="176.2" width="1.8" height="1.8" fill="#5c9e7a" fill-opacity="0.42"/>
<rect x="597.5" y="180.4" width="1.8" height="1.8" fill="#6678cc" fill-opacity="0.42"/>
<rect x="599.7" y="178.2" width="1.8" height="1.8" fill="#6678cc" fill-opacity="0.42"/>
<rect x="599.0" y="175.7" width="1.8" height="1.8" fill="#5c9e7a" fill-opacity="0.42"/>
<rect x="597.7" y="179.1" width="1.8" height="1.8" fill="#5c9e7a" fill-opacity="0.42"/>
<rect x="601.4" y="174.6" width="1.8" height="1.8" fill="#5c9e7a" fill-opacity="0.42"/>
<rect x="598.1" y="174.6" width="1.8" height="1.8" fill="#6678cc" fill-opacity="0.42"/>
<rect x="598.9" y="179.8" width="1.8" height="1.8" fill="#6678cc" fill-opacity="0.42"/>
<rect x="597.9" y="172.1" width="1.8" height="1.8" fill="#5c9e7a" fill-opacity="0.42"/>
<rect x="603.4" y="174.5" width="1.8" height="1.8" fill="#6678cc" fill-opacity="0.42"/>
<rect x="596.5" y="174.1" width="1.8" height="1.8" fill="#6678cc" fill-opacity="0.42"/>
<rect x="603.8" y="175.7" width="1.8" height="1.8" fill="#5c9e7a" fill-opacity="0.42"/>
<rect x="598.4" y="176.2" width="1.8" height="1.8" fill="#5c9e7a" fill-opacity="0.42"/>
<rect x="596.7" y="172.0" width="1.8" height="1.8" fill="#6678cc" fill-opacity="0.42"/>
<rect x="606.0" y="185.3" width="1.8" height="1.8" fill="#6678cc" fill-opacity="0.42"/>
<rect x="598.7" y="181.2" width="1.8" height="1.8" fill="#5c9e7a" fill-opacity="0.42"/>
<rect x="653.6" y="185.8" width="1.8" height="1.8" fill="#6678cc" fill-opacity="0.42"/>
<rect x="653.0" y="179.1" width="1.8" height="1.8" fill="#6678cc" fill-opacity="0.42"/>
<rect x="654.7" y="172.7" width="1.8" height="1.8" fill="#6678cc" fill-opacity="0.42"/>
<rect x="661.2" y="188.0" width="1.8" height="1.8" fill="#6678cc" fill-opacity="0.42"/>
<rect x="661.3" y="181.1" width="1.8" height="1.8" fill="#5c9e7a" fill-opacity="0.42"/>
<rect x="660.5" y="185.9" width="1.8" height="1.8" fill="#6678cc" fill-opacity="0.42"/>
<rect x="651.9" y="181.0" width="1.8" height="1.8" fill="#6678cc" fill-opacity="0.42"/>
<rect x="653.9" y="177.8" width="1.8" height="1.8" fill="#5c9e7a" fill-opacity="0.42"/>
<rect x="660.2" y="177.0" width="1.8" height="1.8" fill="#5c9e7a" fill-opacity="0.42"/>
<rect x="651.5" y="176.2" width="1.8" height="1.8" fill="#5c9e7a" fill-opacity="0.42"/>
<rect x="658.5" y="183.0" width="1.8" height="1.8" fill="#6678cc" fill-opacity="0.42"/>
<rect x="654.0" y="179.4" width="1.8" height="1.8" fill="#5c9e7a" fill-opacity="0.42"/>
<rect x="661.1" y="178.6" width="1.8" height="1.8" fill="#6678cc" fill-opacity="0.42"/>
<rect x="651.1" y="177.6" width="1.8" height="1.8" fill="#5c9e7a" fill-opacity="0.42"/>
<rect x="659.3" y="173.9" width="1.8" height="1.8" fill="#6678cc" fill-opacity="0.42"/>
<rect x="654.5" y="178.5" width="1.8" height="1.8" fill="#5c9e7a" fill-opacity="0.42"/>
<rect x="652.4" y="176.8" width="1.8" height="1.8" fill="#5c9e7a" fill-opacity="0.42"/>
<rect x="650.9" y="181.0" width="1.8" height="1.8" fill="#6678cc" fill-opacity="0.42"/>
<rect x="659.6" y="174.3" width="1.8" height="1.8" fill="#5c9e7a" fill-opacity="0.42"/>
<rect x="656.4" y="184.6" width="1.8" height="1.8" fill="#6678cc" fill-opacity="0.42"/>
<rect x="652.9" y="175.0" width="1.8" height="1.8" fill="#5c9e7a" fill-opacity="0.42"/>
<rect x="655.5" y="176.1" width="1.8" height="1.8" fill="#6678cc" fill-opacity="0.42"/>
<rect x="660.4" y="178.3" width="1.8" height="1.8" fill="#6678cc" fill-opacity="0.42"/>
<rect x="653.2" y="177.2" width="1.8" height="1.8" fill="#6678cc" fill-opacity="0.42"/>
<rect x="656.9" y="174.0" width="1.8" height="1.8" fill="#5c9e7a" fill-opacity="0.42"/>
<rect x="652.4" y="179.7" width="1.8" height="1.8" fill="#6678cc" fill-opacity="0.42"/>
<rect x="652.8" y="176.6" width="1.8" height="1.8" fill="#6678cc" fill-opacity="0.42"/>
<rect x="658.9" y="178.6" width="1.8" height="1.8" fill="#6678cc" fill-opacity="0.42"/>
<rect x="658.3" y="176.8" width="1.8" height="1.8" fill="#6678cc" fill-opacity="0.42"/>
<rect x="653.0" y="181.6" width="1.8" height="1.8" fill="#6678cc" fill-opacity="0.42"/>
<rect x="651.7" y="177.3" width="1.8" height="1.8" fill="#5c9e7a" fill-opacity="0.42"/>
<rect x="651.8" y="178.7" width="1.8" height="1.8" fill="#6678cc" fill-opacity="0.42"/>
<rect x="657.3" y="176.6" width="1.8" height="1.8" fill="#5c9e7a" fill-opacity="0.42"/>
<rect x="656.1" y="174.1" width="1.8" height="1.8" fill="#5c9e7a" fill-opacity="0.42"/>
<rect x="653.8" y="185.3" width="1.8" height="1.8" fill="#6678cc" fill-opacity="0.42"/>
<rect x="653.1" y="180.7" width="1.8" height="1.8" fill="#6678cc" fill-opacity="0.42"/>
<rect x="657.3" y="179.8" width="1.8" height="1.8" fill="#5c9e7a" fill-opacity="0.42"/>
<rect x="658.3" y="185.8" width="1.8" height="1.8" fill="#6678cc" fill-opacity="0.42"/>
<rect x="659.4" y="180.2" width="1.8" height="1.8" fill="#5c9e7a" fill-opacity="0.42"/>
<rect x="657.0" y="178.4" width="1.8" height="1.8" fill="#6678cc" fill-opacity="0.42"/>
<rect x="653.0" y="181.1" width="1.8" height="1.8" fill="#5c9e7a" fill-opacity="0.42"/>
<rect x="651.6" y="174.4" width="1.8" height="1.8" fill="#5c9e7a" fill-opacity="0.42"/>
<rect x="658.5" y="179.4" width="1.8" height="1.8" fill="#5c9e7a" fill-opacity="0.42"/>
<rect x="655.2" y="183.5" width="1.8" height="1.8" fill="#6678cc" fill-opacity="0.42"/>
<rect x="658.4" y="174.8" width="1.8" height="1.8" fill="#5c9e7a" fill-opacity="0.42"/>
<rect x="651.5" y="179.1" width="1.8" height="1.8" fill="#6678cc" fill-opacity="0.42"/>
<rect x="659.4" y="180.0" width="1.8" height="1.8" fill="#5c9e7a" fill-opacity="0.42"/>
<rect x="654.4" y="177.1" width="1.8" height="1.8" fill="#6678cc" fill-opacity="0.42"/>
<rect x="659.7" y="178.3" width="1.8" height="1.8" fill="#5c9e7a" fill-opacity="0.42"/>
<rect x="659.9" y="174.9" width="1.8" height="1.8" fill="#6678cc" fill-opacity="0.42"/>
<rect x="656.1" y="184.0" width="1.8" height="1.8" fill="#6678cc" fill-opacity="0.42"/>
<rect x="651.1" y="172.9" width="1.8" height="1.8" fill="#5c9e7a" fill-opacity="0.42"/>
<rect x="660.4" y="174.1" width="1.8" height="1.8" fill="#6678cc" fill-opacity="0.42"/>
<rect x="655.9" y="171.6" width="1.8" height="1.8" fill="#5c9e7a" fill-opacity="0.42"/>
<rect x="660.0" y="176.3" width="1.8" height="1.8" fill="#6678cc" fill-opacity="0.42"/>
<line x1="602.5" y1="176.9" x2="657.0" y2="177.3" stroke="#2a8846" stroke-width="1.1"/>
<line x1="602.5" y1="178.9" x2="657.0" y2="180.0" stroke="#3a4eb4" stroke-width="1.1"/>
<line x1="602.5" y1="175.4" x2="602.5" y2="178.4" stroke="#1e7a3c" stroke-width="1.9"/>
<circle cx="602.5" cy="176.9" r="2.75" fill="#1e7a3c"/>
<line x1="602.5" y1="177.4" x2="602.5" y2="180.4" stroke="#2b3fa2" stroke-width="1.9"/>
<circle cx="602.5" cy="178.9" r="2.75" fill="#2b3fa2"/>
<line x1="657.0" y1="175.8" x2="657.0" y2="178.8" stroke="#1e7a3c" stroke-width="1.9"/>
<circle cx="657.0" cy="177.3" r="2.75" fill="#1e7a3c"/>
<line x1="657.0" y1="178.5" x2="657.0" y2="181.5" stroke="#2b3fa2" stroke-width="1.9"/>
<circle cx="657.0" cy="180.0" r="2.75" fill="#2b3fa2"/>
<rect x="575.2" y="137.0" width="109.1" height="92.2" fill="none" stroke="#000" stroke-width="1"/>
<line x1="602.5" y1="229.2" x2="602.5" y2="227.7" stroke="#000" stroke-width="0.8"/>
<line x1="602.5" y1="137.0" x2="602.5" y2="138.5" stroke="#000" stroke-width="0.8"/>
<line x1="657.0" y1="229.2" x2="657.0" y2="227.7" stroke="#000" stroke-width="0.8"/>
<line x1="657.0" y1="137.0" x2="657.0" y2="138.5" stroke="#000" stroke-width="0.8"/>
<line x1="575.2" y1="144.6" x2="576.7" y2="144.6" stroke="#000" stroke-width="0.8"/>
<line x1="684.3" y1="144.6" x2="682.8" y2="144.6" stroke="#000" stroke-width="0.8"/>
<text x="572.4" y="148.5" font-size="10.25" text-anchor="end">1.0</text>
<line x1="575.2" y1="183.1" x2="576.7" y2="183.1" stroke="#000" stroke-width="0.8"/>
<line x1="684.3" y1="183.1" x2="682.8" y2="183.1" stroke="#000" stroke-width="0.8"/>
<text x="572.4" y="187.0" font-size="10.25" text-anchor="end">0.5</text>
<line x1="575.2" y1="221.7" x2="576.7" y2="221.7" stroke="#000" stroke-width="0.8"/>
<line x1="684.3" y1="221.7" x2="682.8" y2="221.7" stroke="#000" stroke-width="0.8"/>
<text x="572.4" y="225.6" font-size="10.25" text-anchor="end">0.0</text>
<text x="602.5" y="239.7" font-size="10.25" font-weight="bold" text-anchor="middle">lower</text>
<text x="657.0" y="239.7" font-size="10.25" font-weight="bold" text-anchor="middle">upper</text>
<text x="577.8" y="150.0" font-size="13.8" font-weight="bold">G</text>
<text transform="translate(552.3,180.0) rotate(-90)" font-size="10.25" text-anchor="middle">Prop. neg. local contrast</text>
</svg>
</body></html>
